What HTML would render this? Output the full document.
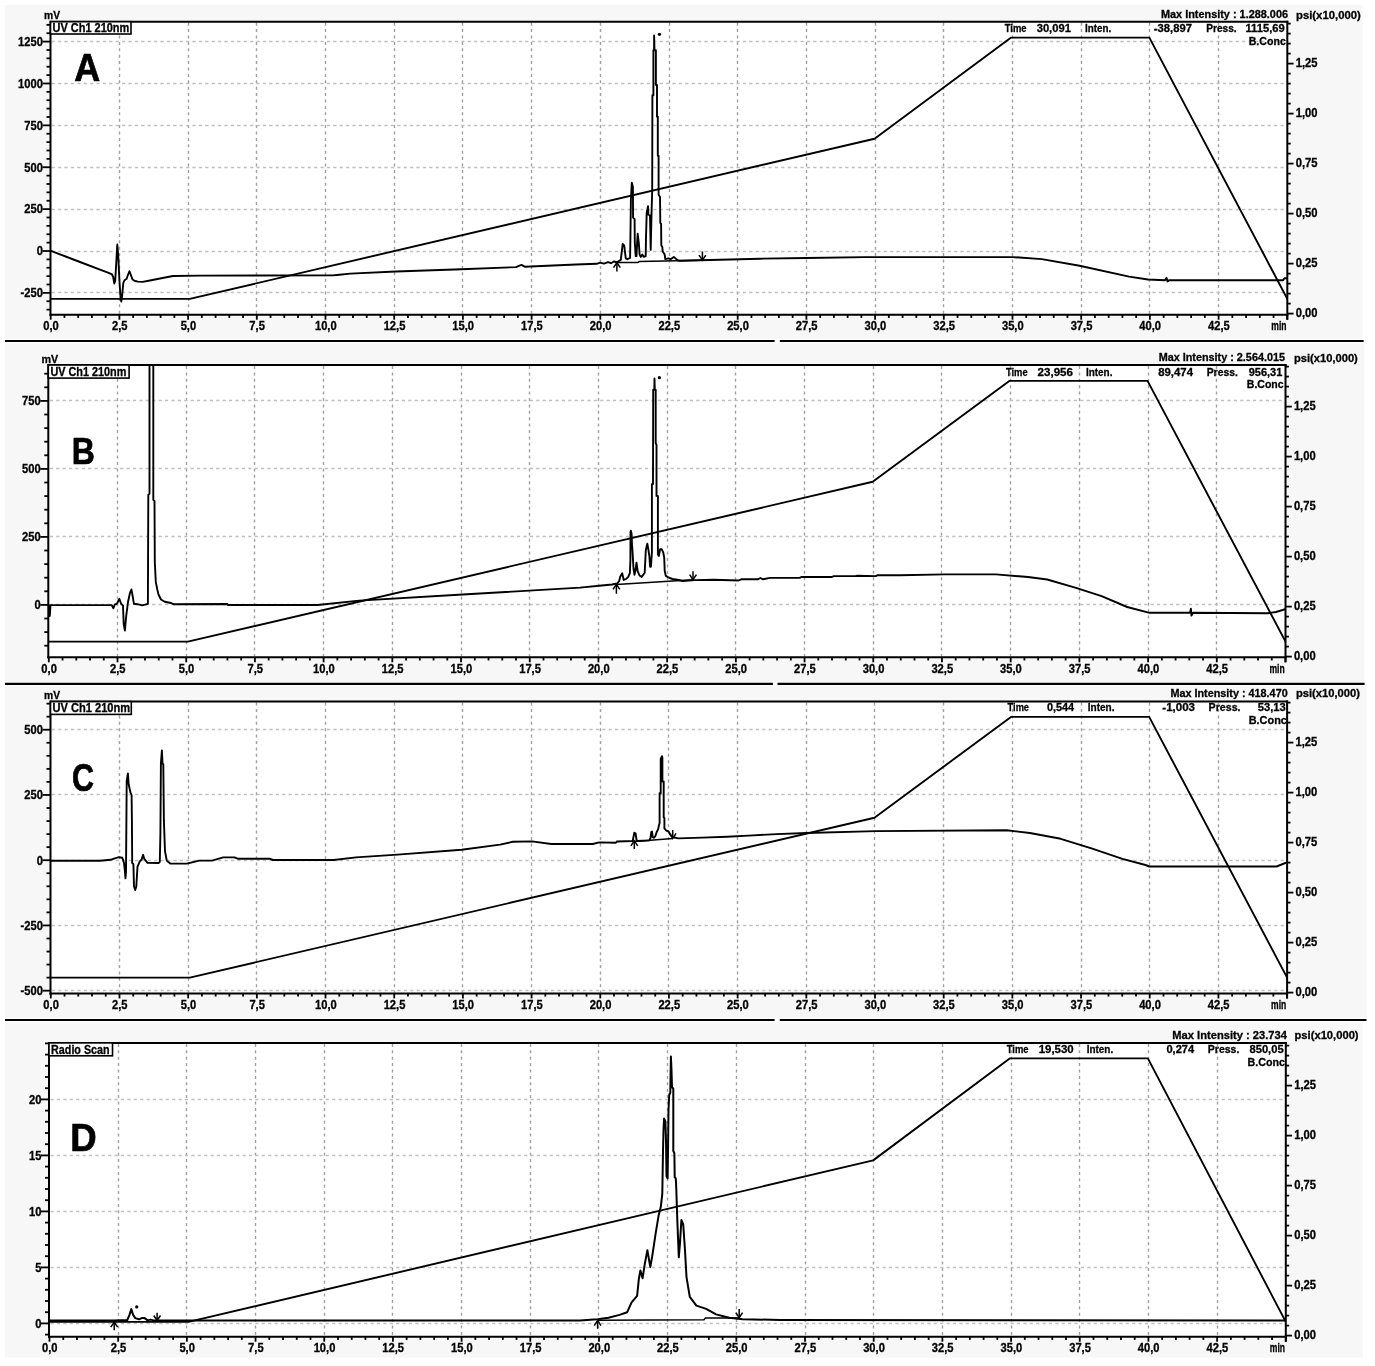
<!DOCTYPE html>
<html><head><meta charset="utf-8"><title>Chromatograms</title><style>
html,body{margin:0;padding:0;background:#fff;width:1375px;height:1366px;overflow:hidden}
svg{display:block;filter:grayscale(1)}text{font-family:"Liberation Sans", sans-serif;fill:#000;stroke:#000;stroke-width:0.3px}
</style></head><body>
<svg width="1375" height="1366" viewBox="0 0 1375 1366">
<rect x="0" y="0" width="1375" height="1366" fill="#fff"/>
<rect x="5" y="4.8" width="1357.6" height="336.2" fill="#f7f7f7"/>
<rect x="5" y="341" width="1359.4" height="343" fill="#f7f7f7"/>
<rect x="5" y="684" width="1361.6" height="336" fill="#f7f7f7"/>
<rect x="5" y="1020" width="1357.7" height="337.6" fill="#f7f7f7"/>
<rect x="50.7" y="21.7" width="1236.6" height="293" fill="#fff"/>
<g stroke-width="1" fill="none">
<line x1="119.5" y1="22.7" x2="119.5" y2="313.7" stroke="#a0a0a0" stroke-width="1.4" stroke-dasharray="3 3.4"/>
<line x1="188.5" y1="22.7" x2="188.5" y2="313.7" stroke="#a0a0a0" stroke-width="1.4" stroke-dasharray="3 3.4"/>
<line x1="256.5" y1="22.7" x2="256.5" y2="313.7" stroke="#a0a0a0" stroke-width="1.4" stroke-dasharray="3 3.4"/>
<line x1="325.5" y1="22.7" x2="325.5" y2="313.7" stroke="#a0a0a0" stroke-width="1.4" stroke-dasharray="3 3.4"/>
<line x1="394.5" y1="22.7" x2="394.5" y2="313.7" stroke="#a0a0a0" stroke-width="1.4" stroke-dasharray="3 3.4"/>
<line x1="462.5" y1="22.7" x2="462.5" y2="313.7" stroke="#a0a0a0" stroke-width="1.4" stroke-dasharray="3 3.4"/>
<line x1="531.5" y1="22.7" x2="531.5" y2="313.7" stroke="#a0a0a0" stroke-width="1.4" stroke-dasharray="3 3.4"/>
<line x1="600.5" y1="22.7" x2="600.5" y2="313.7" stroke="#a0a0a0" stroke-width="1.4" stroke-dasharray="3 3.4"/>
<line x1="669.5" y1="22.7" x2="669.5" y2="313.7" stroke="#a0a0a0" stroke-width="1.4" stroke-dasharray="3 3.4"/>
<line x1="737.5" y1="22.7" x2="737.5" y2="313.7" stroke="#a0a0a0" stroke-width="1.4" stroke-dasharray="3 3.4"/>
<line x1="806.5" y1="22.7" x2="806.5" y2="313.7" stroke="#a0a0a0" stroke-width="1.4" stroke-dasharray="3 3.4"/>
<line x1="875.5" y1="22.7" x2="875.5" y2="313.7" stroke="#a0a0a0" stroke-width="1.4" stroke-dasharray="3 3.4"/>
<line x1="943.5" y1="22.7" x2="943.5" y2="313.7" stroke="#a0a0a0" stroke-width="1.4" stroke-dasharray="3 3.4"/>
<line x1="1012.5" y1="22.7" x2="1012.5" y2="313.7" stroke="#a0a0a0" stroke-width="1.4" stroke-dasharray="3 3.4"/>
<line x1="1081.5" y1="22.7" x2="1081.5" y2="313.7" stroke="#a0a0a0" stroke-width="1.4" stroke-dasharray="3 3.4"/>
<line x1="1149.5" y1="22.7" x2="1149.5" y2="313.7" stroke="#a0a0a0" stroke-width="1.4" stroke-dasharray="3 3.4"/>
<line x1="1218.5" y1="22.7" x2="1218.5" y2="313.7" stroke="#a0a0a0" stroke-width="1.4" stroke-dasharray="3 3.4"/>
<line x1="51.7" y1="41.5" x2="1286.3" y2="41.5" stroke="#c0c0c0" stroke-width="1.4" stroke-dasharray="3.2 3.2"/>
<line x1="51.7" y1="83.5" x2="1286.3" y2="83.5" stroke="#c0c0c0" stroke-width="1.4" stroke-dasharray="3.2 3.2"/>
<line x1="51.7" y1="125.5" x2="1286.3" y2="125.5" stroke="#c0c0c0" stroke-width="1.4" stroke-dasharray="3.2 3.2"/>
<line x1="51.7" y1="167.5" x2="1286.3" y2="167.5" stroke="#c0c0c0" stroke-width="1.4" stroke-dasharray="3.2 3.2"/>
<line x1="51.7" y1="209.5" x2="1286.3" y2="209.5" stroke="#c0c0c0" stroke-width="1.4" stroke-dasharray="3.2 3.2"/>
<line x1="51.7" y1="251.5" x2="1286.3" y2="251.5" stroke="#c0c0c0" stroke-width="1.4" stroke-dasharray="3.2 3.2"/>
<line x1="51.7" y1="292.5" x2="1286.3" y2="292.5" stroke="#c0c0c0" stroke-width="1.4" stroke-dasharray="3.2 3.2"/>
</g>
<clipPath id="clipA"><rect x="50.7" y="21.7" width="1236.6" height="293"/></clipPath>
<g clip-path="url(#clipA)">
<polyline points="50.7,298.9 189.75,298.9 874.55,138.72 1011.13,37.6 1149.35,37.6 1287.3,298.9" fill="none" stroke="#000" stroke-width="1.9" stroke-linejoin="round" stroke-linecap="round"/>
<polyline points="51,250.8 60,254.3 80,262 100,269.6 108,272.6 112,274.3 113.2,277 114.3,283.5 115.2,281 116.3,262 117.3,244.5 118.2,255 119.5,282 120.6,298 121.3,301.5 122.2,295 123.3,283 124.5,280.2 126.5,279 128.3,274 129.5,271.2 130.7,274.5 132.5,279.5 135,281 138,281.6 142.5,281.9 150,280.5 160,278.5 173,276 200,275.6 332.7,275.4 337,275 350.2,273.6 396,271.5 461.5,269.3 516,267.1 519,265.8 521.5,264.9 524.7,266.7 576,264.5 596.7,263.8 600,262.6 604,263.6 608,262.2 611,263.2 613.8,261.5 616.9,262.2 620.8,259.9 621.5,253.8 622.7,243.8 624.2,245.3 625,252.2 625.8,258.4 627.3,259.2 630.1,258 630.4,238.4 630.9,199.2 631.8,182.7 632.9,186.9 633.1,217.7 634.6,219.2 634.8,242.3 635.7,256.1 636.5,256.1 637.1,243 637.7,233.8 638.8,243 639.6,254.6 640.7,256.9 642.3,254.6 643.8,256.9 645.7,256.1 646,237.6 646.7,213 648,206.1 648.4,214.6 650,215.3 650.7,249.9 651.5,214.6 652.2,190 652.4,95.3 653.4,95.3 653.4,50.3 654.1,50.3 654.1,35.4 654.5,50.3 655.9,50.3 655.9,84.9 657,84.9 657,116.8 657.8,116.8 657.8,155.8 658.6,155.8 658.6,194.6 660,196.9 660.3,223 661.1,223.8 661.3,245.3 662.3,246.9 662.7,251.5 664.6,254.2 665.3,259.2 668.4,258.4 670.7,259.2 673.8,256.9 677.6,260.3 680,260.7 700,260.2 760,258.7 806.2,258 864.4,257.1 1012.7,257.1 1041.8,259.1 1079.6,265.8 1129.1,276.6 1148,279.5 1165,280.2 1166.5,277.8 1167.5,281.5 1169,280.2 1283.1,280.2 1284.4,278.2 1288,278.2" fill="none" stroke="#000" stroke-width="1.9" stroke-linejoin="round" stroke-linecap="round"/>
<polyline points="616.9,262.6 637.7,262.6 639.2,261.6 702.4,260.2" fill="none" stroke="#000" stroke-width="1.5"/>
<polyline points="613.5,267.6 616.9,262.6 620.3,267.6" fill="none" stroke="#000" stroke-width="1.5"/><line x1="616.9" y1="262.6" x2="616.9" y2="271.5" stroke="#000" stroke-width="1.5"/>
<polyline points="699,255.2 702.4,260.2 705.8,255.2" fill="none" stroke="#000" stroke-width="1.5"/><line x1="702.4" y1="260.2" x2="702.4" y2="251.6" stroke="#000" stroke-width="1.5"/>
<circle cx="659.4" cy="34.3" r="1.6" fill="#000"/>
</g>
<line x1="50.5" y1="21.7" x2="1288.3" y2="21.7" stroke="#000" stroke-width="2"/>
<line x1="50.5" y1="20.7" x2="50.5" y2="315.7" stroke="#000" stroke-width="2"/>
<line x1="49.5" y1="314.7" x2="1288.3" y2="314.7" stroke="#000" stroke-width="2"/>
<line x1="1287.3" y1="20.7" x2="1287.3" y2="319.7" stroke="#000" stroke-width="2"/>
<line x1="46.5" y1="309.63" x2="50.5" y2="309.63" stroke="#000" stroke-width="1.8"/>
<line x1="46.5" y1="301.26" x2="50.5" y2="301.26" stroke="#000" stroke-width="1.8"/>
<line x1="42.5" y1="292.88" x2="50.5" y2="292.88" stroke="#000" stroke-width="1.8"/>
<line x1="46.5" y1="284.5" x2="50.5" y2="284.5" stroke="#000" stroke-width="1.8"/>
<line x1="46.5" y1="276.13" x2="50.5" y2="276.13" stroke="#000" stroke-width="1.8"/>
<line x1="46.5" y1="267.75" x2="50.5" y2="267.75" stroke="#000" stroke-width="1.8"/>
<line x1="46.5" y1="259.38" x2="50.5" y2="259.38" stroke="#000" stroke-width="1.8"/>
<line x1="42.5" y1="251" x2="50.5" y2="251" stroke="#000" stroke-width="1.8"/>
<line x1="46.5" y1="242.62" x2="50.5" y2="242.62" stroke="#000" stroke-width="1.8"/>
<line x1="46.5" y1="234.25" x2="50.5" y2="234.25" stroke="#000" stroke-width="1.8"/>
<line x1="46.5" y1="225.87" x2="50.5" y2="225.87" stroke="#000" stroke-width="1.8"/>
<line x1="46.5" y1="217.5" x2="50.5" y2="217.5" stroke="#000" stroke-width="1.8"/>
<line x1="42.5" y1="209.12" x2="50.5" y2="209.12" stroke="#000" stroke-width="1.8"/>
<line x1="46.5" y1="200.74" x2="50.5" y2="200.74" stroke="#000" stroke-width="1.8"/>
<line x1="46.5" y1="192.37" x2="50.5" y2="192.37" stroke="#000" stroke-width="1.8"/>
<line x1="46.5" y1="183.99" x2="50.5" y2="183.99" stroke="#000" stroke-width="1.8"/>
<line x1="46.5" y1="175.62" x2="50.5" y2="175.62" stroke="#000" stroke-width="1.8"/>
<line x1="42.5" y1="167.24" x2="50.5" y2="167.24" stroke="#000" stroke-width="1.8"/>
<line x1="46.5" y1="158.86" x2="50.5" y2="158.86" stroke="#000" stroke-width="1.8"/>
<line x1="46.5" y1="150.49" x2="50.5" y2="150.49" stroke="#000" stroke-width="1.8"/>
<line x1="46.5" y1="142.11" x2="50.5" y2="142.11" stroke="#000" stroke-width="1.8"/>
<line x1="46.5" y1="133.74" x2="50.5" y2="133.74" stroke="#000" stroke-width="1.8"/>
<line x1="42.5" y1="125.36" x2="50.5" y2="125.36" stroke="#000" stroke-width="1.8"/>
<line x1="46.5" y1="116.98" x2="50.5" y2="116.98" stroke="#000" stroke-width="1.8"/>
<line x1="46.5" y1="108.61" x2="50.5" y2="108.61" stroke="#000" stroke-width="1.8"/>
<line x1="46.5" y1="100.23" x2="50.5" y2="100.23" stroke="#000" stroke-width="1.8"/>
<line x1="46.5" y1="91.86" x2="50.5" y2="91.86" stroke="#000" stroke-width="1.8"/>
<line x1="42.5" y1="83.48" x2="50.5" y2="83.48" stroke="#000" stroke-width="1.8"/>
<line x1="46.5" y1="75.1" x2="50.5" y2="75.1" stroke="#000" stroke-width="1.8"/>
<line x1="46.5" y1="66.73" x2="50.5" y2="66.73" stroke="#000" stroke-width="1.8"/>
<line x1="46.5" y1="58.35" x2="50.5" y2="58.35" stroke="#000" stroke-width="1.8"/>
<line x1="46.5" y1="49.98" x2="50.5" y2="49.98" stroke="#000" stroke-width="1.8"/>
<line x1="42.5" y1="41.6" x2="50.5" y2="41.6" stroke="#000" stroke-width="1.8"/>
<line x1="46.5" y1="33.22" x2="50.5" y2="33.22" stroke="#000" stroke-width="1.8"/>
<line x1="46.5" y1="24.85" x2="50.5" y2="24.85" stroke="#000" stroke-width="1.8"/>
<text x="42.9" y="45.9" font-size="12" font-weight="bold" text-anchor="end" textLength="24.82" lengthAdjust="spacingAndGlyphs">1250</text>
<text x="42.9" y="87.78" font-size="12" font-weight="bold" text-anchor="end" textLength="24.82" lengthAdjust="spacingAndGlyphs">1000</text>
<text x="42.9" y="129.66" font-size="12" font-weight="bold" text-anchor="end" textLength="18.62" lengthAdjust="spacingAndGlyphs">750</text>
<text x="42.9" y="171.54" font-size="12" font-weight="bold" text-anchor="end" textLength="18.62" lengthAdjust="spacingAndGlyphs">500</text>
<text x="42.9" y="213.42" font-size="12" font-weight="bold" text-anchor="end" textLength="18.62" lengthAdjust="spacingAndGlyphs">250</text>
<text x="42.9" y="255.3" font-size="12" font-weight="bold" text-anchor="end" textLength="6.21" lengthAdjust="spacingAndGlyphs">0</text>
<text x="42.9" y="297.18" font-size="12" font-weight="bold" text-anchor="end" textLength="22.33" lengthAdjust="spacingAndGlyphs">-250</text>
<line x1="1287.3" y1="313.6" x2="1293.6" y2="313.6" stroke="#000" stroke-width="1.8"/>
<text x="1295.7" y="317.3" font-size="12" font-weight="bold" text-anchor="start" textLength="21.8" lengthAdjust="spacingAndGlyphs">0,00</text>
<line x1="1287.3" y1="303.6" x2="1290.7" y2="303.6" stroke="#000" stroke-width="1.8"/>
<line x1="1287.3" y1="293.6" x2="1290.7" y2="293.6" stroke="#000" stroke-width="1.8"/>
<line x1="1287.3" y1="283.6" x2="1290.7" y2="283.6" stroke="#000" stroke-width="1.8"/>
<line x1="1287.3" y1="273.6" x2="1290.7" y2="273.6" stroke="#000" stroke-width="1.8"/>
<line x1="1287.3" y1="263.6" x2="1293.6" y2="263.6" stroke="#000" stroke-width="1.8"/>
<text x="1295.7" y="267.3" font-size="12" font-weight="bold" text-anchor="start" textLength="21.8" lengthAdjust="spacingAndGlyphs">0,25</text>
<line x1="1287.3" y1="253.6" x2="1290.7" y2="253.6" stroke="#000" stroke-width="1.8"/>
<line x1="1287.3" y1="243.6" x2="1290.7" y2="243.6" stroke="#000" stroke-width="1.8"/>
<line x1="1287.3" y1="233.6" x2="1290.7" y2="233.6" stroke="#000" stroke-width="1.8"/>
<line x1="1287.3" y1="223.6" x2="1290.7" y2="223.6" stroke="#000" stroke-width="1.8"/>
<line x1="1287.3" y1="213.6" x2="1293.6" y2="213.6" stroke="#000" stroke-width="1.8"/>
<text x="1295.7" y="217.3" font-size="12" font-weight="bold" text-anchor="start" textLength="21.8" lengthAdjust="spacingAndGlyphs">0,50</text>
<line x1="1287.3" y1="203.6" x2="1290.7" y2="203.6" stroke="#000" stroke-width="1.8"/>
<line x1="1287.3" y1="193.6" x2="1290.7" y2="193.6" stroke="#000" stroke-width="1.8"/>
<line x1="1287.3" y1="183.6" x2="1290.7" y2="183.6" stroke="#000" stroke-width="1.8"/>
<line x1="1287.3" y1="173.6" x2="1290.7" y2="173.6" stroke="#000" stroke-width="1.8"/>
<line x1="1287.3" y1="163.6" x2="1293.6" y2="163.6" stroke="#000" stroke-width="1.8"/>
<text x="1295.7" y="167.3" font-size="12" font-weight="bold" text-anchor="start" textLength="21.8" lengthAdjust="spacingAndGlyphs">0,75</text>
<line x1="1287.3" y1="153.6" x2="1290.7" y2="153.6" stroke="#000" stroke-width="1.8"/>
<line x1="1287.3" y1="143.6" x2="1290.7" y2="143.6" stroke="#000" stroke-width="1.8"/>
<line x1="1287.3" y1="133.6" x2="1290.7" y2="133.6" stroke="#000" stroke-width="1.8"/>
<line x1="1287.3" y1="123.6" x2="1290.7" y2="123.6" stroke="#000" stroke-width="1.8"/>
<line x1="1287.3" y1="113.6" x2="1293.6" y2="113.6" stroke="#000" stroke-width="1.8"/>
<text x="1295.7" y="117.3" font-size="12" font-weight="bold" text-anchor="start" textLength="21.8" lengthAdjust="spacingAndGlyphs">1,00</text>
<line x1="1287.3" y1="103.6" x2="1290.7" y2="103.6" stroke="#000" stroke-width="1.8"/>
<line x1="1287.3" y1="93.6" x2="1290.7" y2="93.6" stroke="#000" stroke-width="1.8"/>
<line x1="1287.3" y1="83.6" x2="1290.7" y2="83.6" stroke="#000" stroke-width="1.8"/>
<line x1="1287.3" y1="73.6" x2="1290.7" y2="73.6" stroke="#000" stroke-width="1.8"/>
<line x1="1287.3" y1="63.6" x2="1293.6" y2="63.6" stroke="#000" stroke-width="1.8"/>
<text x="1295.7" y="67.3" font-size="12" font-weight="bold" text-anchor="start" textLength="21.8" lengthAdjust="spacingAndGlyphs">1,25</text>
<line x1="1287.3" y1="53.6" x2="1290.7" y2="53.6" stroke="#000" stroke-width="1.8"/>
<line x1="1287.3" y1="43.6" x2="1290.7" y2="43.6" stroke="#000" stroke-width="1.8"/>
<line x1="1287.3" y1="33.6" x2="1290.7" y2="33.6" stroke="#000" stroke-width="1.8"/>
<line x1="1287.3" y1="23.6" x2="1290.7" y2="23.6" stroke="#000" stroke-width="1.8"/>
<line x1="50.7" y1="314.7" x2="50.7" y2="319.7" stroke="#000" stroke-width="1.8"/>
<text x="51" y="330.4" font-size="12" font-weight="bold" text-anchor="middle" textLength="15.51" lengthAdjust="spacingAndGlyphs">0,0</text>
<line x1="64.44" y1="314.7" x2="64.44" y2="317.9" stroke="#000" stroke-width="1.8"/>
<line x1="78.18" y1="314.7" x2="78.18" y2="317.9" stroke="#000" stroke-width="1.8"/>
<line x1="91.92" y1="314.7" x2="91.92" y2="317.9" stroke="#000" stroke-width="1.8"/>
<line x1="105.66" y1="314.7" x2="105.66" y2="317.9" stroke="#000" stroke-width="1.8"/>
<line x1="119.4" y1="314.7" x2="119.4" y2="319.7" stroke="#000" stroke-width="1.8"/>
<text x="119.7" y="330.4" font-size="12" font-weight="bold" text-anchor="middle" textLength="15.51" lengthAdjust="spacingAndGlyphs">2,5</text>
<line x1="133.14" y1="314.7" x2="133.14" y2="317.9" stroke="#000" stroke-width="1.8"/>
<line x1="146.88" y1="314.7" x2="146.88" y2="317.9" stroke="#000" stroke-width="1.8"/>
<line x1="160.62" y1="314.7" x2="160.62" y2="317.9" stroke="#000" stroke-width="1.8"/>
<line x1="174.36" y1="314.7" x2="174.36" y2="317.9" stroke="#000" stroke-width="1.8"/>
<line x1="188.1" y1="314.7" x2="188.1" y2="319.7" stroke="#000" stroke-width="1.8"/>
<text x="188.4" y="330.4" font-size="12" font-weight="bold" text-anchor="middle" textLength="15.51" lengthAdjust="spacingAndGlyphs">5,0</text>
<line x1="201.84" y1="314.7" x2="201.84" y2="317.9" stroke="#000" stroke-width="1.8"/>
<line x1="215.58" y1="314.7" x2="215.58" y2="317.9" stroke="#000" stroke-width="1.8"/>
<line x1="229.32" y1="314.7" x2="229.32" y2="317.9" stroke="#000" stroke-width="1.8"/>
<line x1="243.06" y1="314.7" x2="243.06" y2="317.9" stroke="#000" stroke-width="1.8"/>
<line x1="256.8" y1="314.7" x2="256.8" y2="319.7" stroke="#000" stroke-width="1.8"/>
<text x="257.1" y="330.4" font-size="12" font-weight="bold" text-anchor="middle" textLength="15.51" lengthAdjust="spacingAndGlyphs">7,5</text>
<line x1="270.54" y1="314.7" x2="270.54" y2="317.9" stroke="#000" stroke-width="1.8"/>
<line x1="284.28" y1="314.7" x2="284.28" y2="317.9" stroke="#000" stroke-width="1.8"/>
<line x1="298.02" y1="314.7" x2="298.02" y2="317.9" stroke="#000" stroke-width="1.8"/>
<line x1="311.76" y1="314.7" x2="311.76" y2="317.9" stroke="#000" stroke-width="1.8"/>
<line x1="325.5" y1="314.7" x2="325.5" y2="319.7" stroke="#000" stroke-width="1.8"/>
<text x="325.8" y="330.4" font-size="12" font-weight="bold" text-anchor="middle" textLength="21.72" lengthAdjust="spacingAndGlyphs">10,0</text>
<line x1="339.24" y1="314.7" x2="339.24" y2="317.9" stroke="#000" stroke-width="1.8"/>
<line x1="352.98" y1="314.7" x2="352.98" y2="317.9" stroke="#000" stroke-width="1.8"/>
<line x1="366.72" y1="314.7" x2="366.72" y2="317.9" stroke="#000" stroke-width="1.8"/>
<line x1="380.46" y1="314.7" x2="380.46" y2="317.9" stroke="#000" stroke-width="1.8"/>
<line x1="394.2" y1="314.7" x2="394.2" y2="319.7" stroke="#000" stroke-width="1.8"/>
<text x="394.5" y="330.4" font-size="12" font-weight="bold" text-anchor="middle" textLength="21.72" lengthAdjust="spacingAndGlyphs">12,5</text>
<line x1="407.94" y1="314.7" x2="407.94" y2="317.9" stroke="#000" stroke-width="1.8"/>
<line x1="421.68" y1="314.7" x2="421.68" y2="317.9" stroke="#000" stroke-width="1.8"/>
<line x1="435.42" y1="314.7" x2="435.42" y2="317.9" stroke="#000" stroke-width="1.8"/>
<line x1="449.16" y1="314.7" x2="449.16" y2="317.9" stroke="#000" stroke-width="1.8"/>
<line x1="462.9" y1="314.7" x2="462.9" y2="319.7" stroke="#000" stroke-width="1.8"/>
<text x="463.2" y="330.4" font-size="12" font-weight="bold" text-anchor="middle" textLength="21.72" lengthAdjust="spacingAndGlyphs">15,0</text>
<line x1="476.64" y1="314.7" x2="476.64" y2="317.9" stroke="#000" stroke-width="1.8"/>
<line x1="490.38" y1="314.7" x2="490.38" y2="317.9" stroke="#000" stroke-width="1.8"/>
<line x1="504.12" y1="314.7" x2="504.12" y2="317.9" stroke="#000" stroke-width="1.8"/>
<line x1="517.86" y1="314.7" x2="517.86" y2="317.9" stroke="#000" stroke-width="1.8"/>
<line x1="531.6" y1="314.7" x2="531.6" y2="319.7" stroke="#000" stroke-width="1.8"/>
<text x="531.9" y="330.4" font-size="12" font-weight="bold" text-anchor="middle" textLength="21.72" lengthAdjust="spacingAndGlyphs">17,5</text>
<line x1="545.34" y1="314.7" x2="545.34" y2="317.9" stroke="#000" stroke-width="1.8"/>
<line x1="559.08" y1="314.7" x2="559.08" y2="317.9" stroke="#000" stroke-width="1.8"/>
<line x1="572.82" y1="314.7" x2="572.82" y2="317.9" stroke="#000" stroke-width="1.8"/>
<line x1="586.56" y1="314.7" x2="586.56" y2="317.9" stroke="#000" stroke-width="1.8"/>
<line x1="600.3" y1="314.7" x2="600.3" y2="319.7" stroke="#000" stroke-width="1.8"/>
<text x="600.6" y="330.4" font-size="12" font-weight="bold" text-anchor="middle" textLength="21.72" lengthAdjust="spacingAndGlyphs">20,0</text>
<line x1="614.04" y1="314.7" x2="614.04" y2="317.9" stroke="#000" stroke-width="1.8"/>
<line x1="627.78" y1="314.7" x2="627.78" y2="317.9" stroke="#000" stroke-width="1.8"/>
<line x1="641.52" y1="314.7" x2="641.52" y2="317.9" stroke="#000" stroke-width="1.8"/>
<line x1="655.26" y1="314.7" x2="655.26" y2="317.9" stroke="#000" stroke-width="1.8"/>
<line x1="669" y1="314.7" x2="669" y2="319.7" stroke="#000" stroke-width="1.8"/>
<text x="669.3" y="330.4" font-size="12" font-weight="bold" text-anchor="middle" textLength="21.72" lengthAdjust="spacingAndGlyphs">22,5</text>
<line x1="682.74" y1="314.7" x2="682.74" y2="317.9" stroke="#000" stroke-width="1.8"/>
<line x1="696.48" y1="314.7" x2="696.48" y2="317.9" stroke="#000" stroke-width="1.8"/>
<line x1="710.22" y1="314.7" x2="710.22" y2="317.9" stroke="#000" stroke-width="1.8"/>
<line x1="723.96" y1="314.7" x2="723.96" y2="317.9" stroke="#000" stroke-width="1.8"/>
<line x1="737.7" y1="314.7" x2="737.7" y2="319.7" stroke="#000" stroke-width="1.8"/>
<text x="738" y="330.4" font-size="12" font-weight="bold" text-anchor="middle" textLength="21.72" lengthAdjust="spacingAndGlyphs">25,0</text>
<line x1="751.44" y1="314.7" x2="751.44" y2="317.9" stroke="#000" stroke-width="1.8"/>
<line x1="765.18" y1="314.7" x2="765.18" y2="317.9" stroke="#000" stroke-width="1.8"/>
<line x1="778.92" y1="314.7" x2="778.92" y2="317.9" stroke="#000" stroke-width="1.8"/>
<line x1="792.66" y1="314.7" x2="792.66" y2="317.9" stroke="#000" stroke-width="1.8"/>
<line x1="806.4" y1="314.7" x2="806.4" y2="319.7" stroke="#000" stroke-width="1.8"/>
<text x="806.7" y="330.4" font-size="12" font-weight="bold" text-anchor="middle" textLength="21.72" lengthAdjust="spacingAndGlyphs">27,5</text>
<line x1="820.14" y1="314.7" x2="820.14" y2="317.9" stroke="#000" stroke-width="1.8"/>
<line x1="833.88" y1="314.7" x2="833.88" y2="317.9" stroke="#000" stroke-width="1.8"/>
<line x1="847.62" y1="314.7" x2="847.62" y2="317.9" stroke="#000" stroke-width="1.8"/>
<line x1="861.36" y1="314.7" x2="861.36" y2="317.9" stroke="#000" stroke-width="1.8"/>
<line x1="875.1" y1="314.7" x2="875.1" y2="319.7" stroke="#000" stroke-width="1.8"/>
<text x="875.4" y="330.4" font-size="12" font-weight="bold" text-anchor="middle" textLength="21.72" lengthAdjust="spacingAndGlyphs">30,0</text>
<line x1="888.84" y1="314.7" x2="888.84" y2="317.9" stroke="#000" stroke-width="1.8"/>
<line x1="902.58" y1="314.7" x2="902.58" y2="317.9" stroke="#000" stroke-width="1.8"/>
<line x1="916.32" y1="314.7" x2="916.32" y2="317.9" stroke="#000" stroke-width="1.8"/>
<line x1="930.06" y1="314.7" x2="930.06" y2="317.9" stroke="#000" stroke-width="1.8"/>
<line x1="943.8" y1="314.7" x2="943.8" y2="319.7" stroke="#000" stroke-width="1.8"/>
<text x="944.1" y="330.4" font-size="12" font-weight="bold" text-anchor="middle" textLength="21.72" lengthAdjust="spacingAndGlyphs">32,5</text>
<line x1="957.54" y1="314.7" x2="957.54" y2="317.9" stroke="#000" stroke-width="1.8"/>
<line x1="971.28" y1="314.7" x2="971.28" y2="317.9" stroke="#000" stroke-width="1.8"/>
<line x1="985.02" y1="314.7" x2="985.02" y2="317.9" stroke="#000" stroke-width="1.8"/>
<line x1="998.76" y1="314.7" x2="998.76" y2="317.9" stroke="#000" stroke-width="1.8"/>
<line x1="1012.5" y1="314.7" x2="1012.5" y2="319.7" stroke="#000" stroke-width="1.8"/>
<text x="1012.8" y="330.4" font-size="12" font-weight="bold" text-anchor="middle" textLength="21.72" lengthAdjust="spacingAndGlyphs">35,0</text>
<line x1="1026.24" y1="314.7" x2="1026.24" y2="317.9" stroke="#000" stroke-width="1.8"/>
<line x1="1039.98" y1="314.7" x2="1039.98" y2="317.9" stroke="#000" stroke-width="1.8"/>
<line x1="1053.72" y1="314.7" x2="1053.72" y2="317.9" stroke="#000" stroke-width="1.8"/>
<line x1="1067.46" y1="314.7" x2="1067.46" y2="317.9" stroke="#000" stroke-width="1.8"/>
<line x1="1081.2" y1="314.7" x2="1081.2" y2="319.7" stroke="#000" stroke-width="1.8"/>
<text x="1081.5" y="330.4" font-size="12" font-weight="bold" text-anchor="middle" textLength="21.72" lengthAdjust="spacingAndGlyphs">37,5</text>
<line x1="1094.94" y1="314.7" x2="1094.94" y2="317.9" stroke="#000" stroke-width="1.8"/>
<line x1="1108.68" y1="314.7" x2="1108.68" y2="317.9" stroke="#000" stroke-width="1.8"/>
<line x1="1122.42" y1="314.7" x2="1122.42" y2="317.9" stroke="#000" stroke-width="1.8"/>
<line x1="1136.16" y1="314.7" x2="1136.16" y2="317.9" stroke="#000" stroke-width="1.8"/>
<line x1="1149.9" y1="314.7" x2="1149.9" y2="319.7" stroke="#000" stroke-width="1.8"/>
<text x="1150.2" y="330.4" font-size="12" font-weight="bold" text-anchor="middle" textLength="21.72" lengthAdjust="spacingAndGlyphs">40,0</text>
<line x1="1163.64" y1="314.7" x2="1163.64" y2="317.9" stroke="#000" stroke-width="1.8"/>
<line x1="1177.38" y1="314.7" x2="1177.38" y2="317.9" stroke="#000" stroke-width="1.8"/>
<line x1="1191.12" y1="314.7" x2="1191.12" y2="317.9" stroke="#000" stroke-width="1.8"/>
<line x1="1204.86" y1="314.7" x2="1204.86" y2="317.9" stroke="#000" stroke-width="1.8"/>
<line x1="1218.6" y1="314.7" x2="1218.6" y2="319.7" stroke="#000" stroke-width="1.8"/>
<text x="1218.9" y="330.4" font-size="12" font-weight="bold" text-anchor="middle" textLength="21.72" lengthAdjust="spacingAndGlyphs">42,5</text>
<line x1="1232.34" y1="314.7" x2="1232.34" y2="317.9" stroke="#000" stroke-width="1.8"/>
<line x1="1246.08" y1="314.7" x2="1246.08" y2="317.9" stroke="#000" stroke-width="1.8"/>
<line x1="1259.82" y1="314.7" x2="1259.82" y2="317.9" stroke="#000" stroke-width="1.8"/>
<line x1="1273.56" y1="314.7" x2="1273.56" y2="317.9" stroke="#000" stroke-width="1.8"/>
<line x1="1287.3" y1="314.7" x2="1287.3" y2="319.7" stroke="#000" stroke-width="1.8"/>
<text x="1286.5" y="330.4" font-size="12" font-weight="bold" text-anchor="end" textLength="15.2" lengthAdjust="spacingAndGlyphs">min</text>
<rect x="50.5" y="21.7" width="80.5" height="12.3" fill="#fff" stroke="#000" stroke-width="1.6"/>
<text x="52.6" y="32" font-size="12" font-weight="bold" text-anchor="start" textLength="76.7" lengthAdjust="spacingAndGlyphs">UV Ch1 210nm</text>
<text transform="translate(74.35,81.15) scale(0.9255,1)" x="0" y="0" font-size="38.86" font-weight="bold" style="stroke-width:0.7px">A</text>
<text x="44" y="18.5" font-size="11.6" font-weight="bold" text-anchor="start" textLength="16" lengthAdjust="spacingAndGlyphs">mV</text>
<text x="1161" y="17.6" font-size="11.6" font-weight="bold" text-anchor="start" textLength="127" lengthAdjust="spacingAndGlyphs">Max Intensity : 1.288.006</text>
<text x="1296" y="18.6" font-size="11.6" font-weight="bold" text-anchor="start" textLength="64.8" lengthAdjust="spacingAndGlyphs">psi(x10,000)</text>
<text x="1004.8" y="31.6" font-size="11.4" font-weight="bold" text-anchor="start" textLength="21.8" lengthAdjust="spacingAndGlyphs">Time</text>
<text x="1036.7" y="31.6" font-size="11.4" font-weight="bold" text-anchor="start" textLength="34.2" lengthAdjust="spacingAndGlyphs">30,091</text>
<text x="1085.1" y="31.6" font-size="11.4" font-weight="bold" text-anchor="start" textLength="26.2" lengthAdjust="spacingAndGlyphs">Inten.</text>
<text x="1153.8" y="31.6" font-size="11.4" font-weight="bold" text-anchor="start" textLength="38.2" lengthAdjust="spacingAndGlyphs">-38,897</text>
<text x="1206.2" y="31.6" font-size="11.4" font-weight="bold" text-anchor="start" textLength="30.5" lengthAdjust="spacingAndGlyphs">Press.</text>
<text x="1245.5" y="31.6" font-size="11.4" font-weight="bold" text-anchor="start" textLength="39.2" lengthAdjust="spacingAndGlyphs">1115,69</text>
<text x="1248.7" y="44.6" font-size="11.4" font-weight="bold" text-anchor="start" textLength="37.1" lengthAdjust="spacingAndGlyphs">B.Conc</text>
<rect x="5" y="338.8" width="1358.6" height="4.6" fill="#fff"/>
<line x1="5" y1="341" x2="774.6" y2="341" stroke="#000" stroke-width="2.1"/>
<line x1="779.8" y1="341" x2="1363.6" y2="341" stroke="#000" stroke-width="2.1"/>
<rect x="48.8" y="365" width="1236.7" height="292.3" fill="#fff"/>
<g stroke-width="1" fill="none">
<line x1="117.5" y1="366" x2="117.5" y2="656.3" stroke="#a0a0a0" stroke-width="1.4" stroke-dasharray="3 3.4"/>
<line x1="186.5" y1="366" x2="186.5" y2="656.3" stroke="#a0a0a0" stroke-width="1.4" stroke-dasharray="3 3.4"/>
<line x1="254.5" y1="366" x2="254.5" y2="656.3" stroke="#a0a0a0" stroke-width="1.4" stroke-dasharray="3 3.4"/>
<line x1="323.5" y1="366" x2="323.5" y2="656.3" stroke="#a0a0a0" stroke-width="1.4" stroke-dasharray="3 3.4"/>
<line x1="392.5" y1="366" x2="392.5" y2="656.3" stroke="#a0a0a0" stroke-width="1.4" stroke-dasharray="3 3.4"/>
<line x1="461.5" y1="366" x2="461.5" y2="656.3" stroke="#a0a0a0" stroke-width="1.4" stroke-dasharray="3 3.4"/>
<line x1="529.5" y1="366" x2="529.5" y2="656.3" stroke="#a0a0a0" stroke-width="1.4" stroke-dasharray="3 3.4"/>
<line x1="598.5" y1="366" x2="598.5" y2="656.3" stroke="#a0a0a0" stroke-width="1.4" stroke-dasharray="3 3.4"/>
<line x1="667.5" y1="366" x2="667.5" y2="656.3" stroke="#a0a0a0" stroke-width="1.4" stroke-dasharray="3 3.4"/>
<line x1="735.5" y1="366" x2="735.5" y2="656.3" stroke="#a0a0a0" stroke-width="1.4" stroke-dasharray="3 3.4"/>
<line x1="804.5" y1="366" x2="804.5" y2="656.3" stroke="#a0a0a0" stroke-width="1.4" stroke-dasharray="3 3.4"/>
<line x1="873.5" y1="366" x2="873.5" y2="656.3" stroke="#a0a0a0" stroke-width="1.4" stroke-dasharray="3 3.4"/>
<line x1="941.5" y1="366" x2="941.5" y2="656.3" stroke="#a0a0a0" stroke-width="1.4" stroke-dasharray="3 3.4"/>
<line x1="1010.5" y1="366" x2="1010.5" y2="656.3" stroke="#a0a0a0" stroke-width="1.4" stroke-dasharray="3 3.4"/>
<line x1="1079.5" y1="366" x2="1079.5" y2="656.3" stroke="#a0a0a0" stroke-width="1.4" stroke-dasharray="3 3.4"/>
<line x1="1148.5" y1="366" x2="1148.5" y2="656.3" stroke="#a0a0a0" stroke-width="1.4" stroke-dasharray="3 3.4"/>
<line x1="1216.5" y1="366" x2="1216.5" y2="656.3" stroke="#a0a0a0" stroke-width="1.4" stroke-dasharray="3 3.4"/>
<line x1="49.8" y1="400.5" x2="1284.5" y2="400.5" stroke="#c0c0c0" stroke-width="1.4" stroke-dasharray="3.2 3.2"/>
<line x1="49.8" y1="468.5" x2="1284.5" y2="468.5" stroke="#c0c0c0" stroke-width="1.4" stroke-dasharray="3.2 3.2"/>
<line x1="49.8" y1="536.5" x2="1284.5" y2="536.5" stroke="#c0c0c0" stroke-width="1.4" stroke-dasharray="3.2 3.2"/>
<line x1="49.8" y1="604.5" x2="1284.5" y2="604.5" stroke="#c0c0c0" stroke-width="1.4" stroke-dasharray="3.2 3.2"/>
</g>
<clipPath id="clipB"><rect x="48.8" y="365" width="1236.7" height="292.3"/></clipPath>
<g clip-path="url(#clipB)">
<polyline points="48.8,641.6 187.86,641.6 872.72,481.79 1009.3,380.9 1147.54,380.9 1285.5,641.6" fill="none" stroke="#000" stroke-width="1.9" stroke-linejoin="round" stroke-linecap="round"/>
<polyline points="48.8,605.1 49.3,612 49.8,616 50.5,605.1 111.8,605.1 113.4,608.2 114.9,604.4 116.8,603.8 119.3,598.8 121.2,603.8 123,605.7 123.7,624.4 124.9,630.6 126.1,616.9 128,602 129.9,593.2 131.4,589.5 132.6,595.7 133.9,603.8 137.3,604.2 142.3,605.4 147.9,603.8 148.3,494.9 149.5,493.7 149.5,340 153.3,340 153.3,499.9 154.5,501.1 154.8,562.1 155.8,582 157.3,589.5 158.5,594.5 161,599.5 164.7,601.7 171,603 173.4,604.2 227.4,604 228,605 317.6,605 359.2,600.6 458.4,594.8 580,587.6 604.3,585.3 612,584.5 617.3,583.4 619.2,581 620.1,577 622.2,573.3 623.7,580 626,579 628.3,576.9 629.9,572.8 630.4,560 630.5,532 630.9,530.8 631.6,534 632,545 632.4,549.2 633.5,568.7 634.5,574.9 635.5,570 636.5,562.6 637.6,570.8 639.5,575.5 641.7,576.9 644.7,572.8 645.8,550.3 647.3,543.6 648.3,549.2 649.4,556.4 650.1,566.7 650.9,566.7 651.9,552.3 651.9,484.1 653,484.1 653.2,389.8 654.3,389.8 654.5,378.4 654.8,389.8 655.7,389.8 655.7,443.2 656.5,445 656.5,495.9 657.9,496 657.9,554.4 658.9,555.9 660.1,549.2 661.7,549.2 663.2,552.3 664.2,557.4 664.7,570.8 665.8,575.9 668.3,577.4 672.4,579 677.5,579.8 682.7,581 694.9,580.1 714.1,579.8 738.5,580.5 741.2,579.3 757.7,579.3 760.4,578 763,579.3 770,577.9 799.6,577.9 801.4,577 831.9,577 833.7,576.1 855.5,576.1 857.2,575.8 875.6,576.1 877.3,575.3 900,575.3 944.8,574.4 996,574.4 1028,577 1047.2,579.5 1076,587.8 1101.6,596.2 1127.2,607 1149.6,612.8 1190,612.8 1190.9,608.8 1191.5,615.6 1193,612.8 1267.8,613.2 1276,612 1286,609" fill="none" stroke="#000" stroke-width="1.9" stroke-linejoin="round" stroke-linecap="round"/>
<polyline points="616.4,584.4 693,579.7" fill="none" stroke="#000" stroke-width="1.5"/>
<polyline points="613,589.4 616.4,584.4 619.8,589.4" fill="none" stroke="#000" stroke-width="1.5"/><line x1="616.4" y1="584.4" x2="616.4" y2="593.7" stroke="#000" stroke-width="1.5"/>
<polyline points="689.6,574.7 693,579.7 696.4,574.7" fill="none" stroke="#000" stroke-width="1.5"/><line x1="693" y1="579.7" x2="693" y2="571.3" stroke="#000" stroke-width="1.5"/>
<circle cx="659.4" cy="377.7" r="1.6" fill="#000"/>
</g>
<line x1="48.3" y1="365" x2="1286.5" y2="365" stroke="#000" stroke-width="2"/>
<line x1="48.3" y1="364" x2="48.3" y2="658.3" stroke="#000" stroke-width="2"/>
<line x1="47.3" y1="657.3" x2="1286.5" y2="657.3" stroke="#000" stroke-width="2"/>
<line x1="1285.5" y1="364" x2="1285.5" y2="662.3" stroke="#000" stroke-width="2"/>
<line x1="44.3" y1="645.7" x2="48.3" y2="645.7" stroke="#000" stroke-width="1.8"/>
<line x1="44.3" y1="632.1" x2="48.3" y2="632.1" stroke="#000" stroke-width="1.8"/>
<line x1="44.3" y1="618.5" x2="48.3" y2="618.5" stroke="#000" stroke-width="1.8"/>
<line x1="40.3" y1="604.9" x2="48.3" y2="604.9" stroke="#000" stroke-width="1.8"/>
<line x1="44.3" y1="591.3" x2="48.3" y2="591.3" stroke="#000" stroke-width="1.8"/>
<line x1="44.3" y1="577.7" x2="48.3" y2="577.7" stroke="#000" stroke-width="1.8"/>
<line x1="44.3" y1="564.1" x2="48.3" y2="564.1" stroke="#000" stroke-width="1.8"/>
<line x1="44.3" y1="550.5" x2="48.3" y2="550.5" stroke="#000" stroke-width="1.8"/>
<line x1="40.3" y1="536.9" x2="48.3" y2="536.9" stroke="#000" stroke-width="1.8"/>
<line x1="44.3" y1="523.3" x2="48.3" y2="523.3" stroke="#000" stroke-width="1.8"/>
<line x1="44.3" y1="509.7" x2="48.3" y2="509.7" stroke="#000" stroke-width="1.8"/>
<line x1="44.3" y1="496.1" x2="48.3" y2="496.1" stroke="#000" stroke-width="1.8"/>
<line x1="44.3" y1="482.5" x2="48.3" y2="482.5" stroke="#000" stroke-width="1.8"/>
<line x1="40.3" y1="468.9" x2="48.3" y2="468.9" stroke="#000" stroke-width="1.8"/>
<line x1="44.3" y1="455.3" x2="48.3" y2="455.3" stroke="#000" stroke-width="1.8"/>
<line x1="44.3" y1="441.7" x2="48.3" y2="441.7" stroke="#000" stroke-width="1.8"/>
<line x1="44.3" y1="428.1" x2="48.3" y2="428.1" stroke="#000" stroke-width="1.8"/>
<line x1="44.3" y1="414.5" x2="48.3" y2="414.5" stroke="#000" stroke-width="1.8"/>
<line x1="40.3" y1="400.9" x2="48.3" y2="400.9" stroke="#000" stroke-width="1.8"/>
<line x1="44.3" y1="387.3" x2="48.3" y2="387.3" stroke="#000" stroke-width="1.8"/>
<line x1="44.3" y1="373.7" x2="48.3" y2="373.7" stroke="#000" stroke-width="1.8"/>
<text x="40.7" y="405.2" font-size="12" font-weight="bold" text-anchor="end" textLength="18.62" lengthAdjust="spacingAndGlyphs">750</text>
<text x="40.7" y="473.2" font-size="12" font-weight="bold" text-anchor="end" textLength="18.62" lengthAdjust="spacingAndGlyphs">500</text>
<text x="40.7" y="541.2" font-size="12" font-weight="bold" text-anchor="end" textLength="18.62" lengthAdjust="spacingAndGlyphs">250</text>
<text x="40.7" y="609.2" font-size="12" font-weight="bold" text-anchor="end" textLength="6.21" lengthAdjust="spacingAndGlyphs">0</text>
<line x1="1285.5" y1="656.6" x2="1291.8" y2="656.6" stroke="#000" stroke-width="1.8"/>
<text x="1293.9" y="660.3" font-size="12" font-weight="bold" text-anchor="start" textLength="21.8" lengthAdjust="spacingAndGlyphs">0,00</text>
<line x1="1285.5" y1="646.6" x2="1288.9" y2="646.6" stroke="#000" stroke-width="1.8"/>
<line x1="1285.5" y1="636.6" x2="1288.9" y2="636.6" stroke="#000" stroke-width="1.8"/>
<line x1="1285.5" y1="626.6" x2="1288.9" y2="626.6" stroke="#000" stroke-width="1.8"/>
<line x1="1285.5" y1="616.6" x2="1288.9" y2="616.6" stroke="#000" stroke-width="1.8"/>
<line x1="1285.5" y1="606.6" x2="1291.8" y2="606.6" stroke="#000" stroke-width="1.8"/>
<text x="1293.9" y="610.3" font-size="12" font-weight="bold" text-anchor="start" textLength="21.8" lengthAdjust="spacingAndGlyphs">0,25</text>
<line x1="1285.5" y1="596.6" x2="1288.9" y2="596.6" stroke="#000" stroke-width="1.8"/>
<line x1="1285.5" y1="586.6" x2="1288.9" y2="586.6" stroke="#000" stroke-width="1.8"/>
<line x1="1285.5" y1="576.6" x2="1288.9" y2="576.6" stroke="#000" stroke-width="1.8"/>
<line x1="1285.5" y1="566.6" x2="1288.9" y2="566.6" stroke="#000" stroke-width="1.8"/>
<line x1="1285.5" y1="556.6" x2="1291.8" y2="556.6" stroke="#000" stroke-width="1.8"/>
<text x="1293.9" y="560.3" font-size="12" font-weight="bold" text-anchor="start" textLength="21.8" lengthAdjust="spacingAndGlyphs">0,50</text>
<line x1="1285.5" y1="546.6" x2="1288.9" y2="546.6" stroke="#000" stroke-width="1.8"/>
<line x1="1285.5" y1="536.6" x2="1288.9" y2="536.6" stroke="#000" stroke-width="1.8"/>
<line x1="1285.5" y1="526.6" x2="1288.9" y2="526.6" stroke="#000" stroke-width="1.8"/>
<line x1="1285.5" y1="516.6" x2="1288.9" y2="516.6" stroke="#000" stroke-width="1.8"/>
<line x1="1285.5" y1="506.6" x2="1291.8" y2="506.6" stroke="#000" stroke-width="1.8"/>
<text x="1293.9" y="510.3" font-size="12" font-weight="bold" text-anchor="start" textLength="21.8" lengthAdjust="spacingAndGlyphs">0,75</text>
<line x1="1285.5" y1="496.6" x2="1288.9" y2="496.6" stroke="#000" stroke-width="1.8"/>
<line x1="1285.5" y1="486.6" x2="1288.9" y2="486.6" stroke="#000" stroke-width="1.8"/>
<line x1="1285.5" y1="476.6" x2="1288.9" y2="476.6" stroke="#000" stroke-width="1.8"/>
<line x1="1285.5" y1="466.6" x2="1288.9" y2="466.6" stroke="#000" stroke-width="1.8"/>
<line x1="1285.5" y1="456.6" x2="1291.8" y2="456.6" stroke="#000" stroke-width="1.8"/>
<text x="1293.9" y="460.3" font-size="12" font-weight="bold" text-anchor="start" textLength="21.8" lengthAdjust="spacingAndGlyphs">1,00</text>
<line x1="1285.5" y1="446.6" x2="1288.9" y2="446.6" stroke="#000" stroke-width="1.8"/>
<line x1="1285.5" y1="436.6" x2="1288.9" y2="436.6" stroke="#000" stroke-width="1.8"/>
<line x1="1285.5" y1="426.6" x2="1288.9" y2="426.6" stroke="#000" stroke-width="1.8"/>
<line x1="1285.5" y1="416.6" x2="1288.9" y2="416.6" stroke="#000" stroke-width="1.8"/>
<line x1="1285.5" y1="406.6" x2="1291.8" y2="406.6" stroke="#000" stroke-width="1.8"/>
<text x="1293.9" y="410.3" font-size="12" font-weight="bold" text-anchor="start" textLength="21.8" lengthAdjust="spacingAndGlyphs">1,25</text>
<line x1="1285.5" y1="396.6" x2="1288.9" y2="396.6" stroke="#000" stroke-width="1.8"/>
<line x1="1285.5" y1="386.6" x2="1288.9" y2="386.6" stroke="#000" stroke-width="1.8"/>
<line x1="1285.5" y1="376.6" x2="1288.9" y2="376.6" stroke="#000" stroke-width="1.8"/>
<line x1="1285.5" y1="366.6" x2="1288.9" y2="366.6" stroke="#000" stroke-width="1.8"/>
<line x1="48.8" y1="657.3" x2="48.8" y2="662.3" stroke="#000" stroke-width="1.8"/>
<text x="49.1" y="673" font-size="12" font-weight="bold" text-anchor="middle" textLength="15.51" lengthAdjust="spacingAndGlyphs">0,0</text>
<line x1="62.54" y1="657.3" x2="62.54" y2="660.5" stroke="#000" stroke-width="1.8"/>
<line x1="76.28" y1="657.3" x2="76.28" y2="660.5" stroke="#000" stroke-width="1.8"/>
<line x1="90.02" y1="657.3" x2="90.02" y2="660.5" stroke="#000" stroke-width="1.8"/>
<line x1="103.76" y1="657.3" x2="103.76" y2="660.5" stroke="#000" stroke-width="1.8"/>
<line x1="117.51" y1="657.3" x2="117.51" y2="662.3" stroke="#000" stroke-width="1.8"/>
<text x="117.81" y="673" font-size="12" font-weight="bold" text-anchor="middle" textLength="15.51" lengthAdjust="spacingAndGlyphs">2,5</text>
<line x1="131.25" y1="657.3" x2="131.25" y2="660.5" stroke="#000" stroke-width="1.8"/>
<line x1="144.99" y1="657.3" x2="144.99" y2="660.5" stroke="#000" stroke-width="1.8"/>
<line x1="158.73" y1="657.3" x2="158.73" y2="660.5" stroke="#000" stroke-width="1.8"/>
<line x1="172.47" y1="657.3" x2="172.47" y2="660.5" stroke="#000" stroke-width="1.8"/>
<line x1="186.21" y1="657.3" x2="186.21" y2="662.3" stroke="#000" stroke-width="1.8"/>
<text x="186.51" y="673" font-size="12" font-weight="bold" text-anchor="middle" textLength="15.51" lengthAdjust="spacingAndGlyphs">5,0</text>
<line x1="199.95" y1="657.3" x2="199.95" y2="660.5" stroke="#000" stroke-width="1.8"/>
<line x1="213.69" y1="657.3" x2="213.69" y2="660.5" stroke="#000" stroke-width="1.8"/>
<line x1="227.43" y1="657.3" x2="227.43" y2="660.5" stroke="#000" stroke-width="1.8"/>
<line x1="241.18" y1="657.3" x2="241.18" y2="660.5" stroke="#000" stroke-width="1.8"/>
<line x1="254.92" y1="657.3" x2="254.92" y2="662.3" stroke="#000" stroke-width="1.8"/>
<text x="255.22" y="673" font-size="12" font-weight="bold" text-anchor="middle" textLength="15.51" lengthAdjust="spacingAndGlyphs">7,5</text>
<line x1="268.66" y1="657.3" x2="268.66" y2="660.5" stroke="#000" stroke-width="1.8"/>
<line x1="282.4" y1="657.3" x2="282.4" y2="660.5" stroke="#000" stroke-width="1.8"/>
<line x1="296.14" y1="657.3" x2="296.14" y2="660.5" stroke="#000" stroke-width="1.8"/>
<line x1="309.88" y1="657.3" x2="309.88" y2="660.5" stroke="#000" stroke-width="1.8"/>
<line x1="323.62" y1="657.3" x2="323.62" y2="662.3" stroke="#000" stroke-width="1.8"/>
<text x="323.92" y="673" font-size="12" font-weight="bold" text-anchor="middle" textLength="21.72" lengthAdjust="spacingAndGlyphs">10,0</text>
<line x1="337.36" y1="657.3" x2="337.36" y2="660.5" stroke="#000" stroke-width="1.8"/>
<line x1="351.1" y1="657.3" x2="351.1" y2="660.5" stroke="#000" stroke-width="1.8"/>
<line x1="364.85" y1="657.3" x2="364.85" y2="660.5" stroke="#000" stroke-width="1.8"/>
<line x1="378.59" y1="657.3" x2="378.59" y2="660.5" stroke="#000" stroke-width="1.8"/>
<line x1="392.33" y1="657.3" x2="392.33" y2="662.3" stroke="#000" stroke-width="1.8"/>
<text x="392.63" y="673" font-size="12" font-weight="bold" text-anchor="middle" textLength="21.72" lengthAdjust="spacingAndGlyphs">12,5</text>
<line x1="406.07" y1="657.3" x2="406.07" y2="660.5" stroke="#000" stroke-width="1.8"/>
<line x1="419.81" y1="657.3" x2="419.81" y2="660.5" stroke="#000" stroke-width="1.8"/>
<line x1="433.55" y1="657.3" x2="433.55" y2="660.5" stroke="#000" stroke-width="1.8"/>
<line x1="447.29" y1="657.3" x2="447.29" y2="660.5" stroke="#000" stroke-width="1.8"/>
<line x1="461.03" y1="657.3" x2="461.03" y2="662.3" stroke="#000" stroke-width="1.8"/>
<text x="461.33" y="673" font-size="12" font-weight="bold" text-anchor="middle" textLength="21.72" lengthAdjust="spacingAndGlyphs">15,0</text>
<line x1="474.77" y1="657.3" x2="474.77" y2="660.5" stroke="#000" stroke-width="1.8"/>
<line x1="488.52" y1="657.3" x2="488.52" y2="660.5" stroke="#000" stroke-width="1.8"/>
<line x1="502.26" y1="657.3" x2="502.26" y2="660.5" stroke="#000" stroke-width="1.8"/>
<line x1="516" y1="657.3" x2="516" y2="660.5" stroke="#000" stroke-width="1.8"/>
<line x1="529.74" y1="657.3" x2="529.74" y2="662.3" stroke="#000" stroke-width="1.8"/>
<text x="530.04" y="673" font-size="12" font-weight="bold" text-anchor="middle" textLength="21.72" lengthAdjust="spacingAndGlyphs">17,5</text>
<line x1="543.48" y1="657.3" x2="543.48" y2="660.5" stroke="#000" stroke-width="1.8"/>
<line x1="557.22" y1="657.3" x2="557.22" y2="660.5" stroke="#000" stroke-width="1.8"/>
<line x1="570.96" y1="657.3" x2="570.96" y2="660.5" stroke="#000" stroke-width="1.8"/>
<line x1="584.7" y1="657.3" x2="584.7" y2="660.5" stroke="#000" stroke-width="1.8"/>
<line x1="598.44" y1="657.3" x2="598.44" y2="662.3" stroke="#000" stroke-width="1.8"/>
<text x="598.74" y="673" font-size="12" font-weight="bold" text-anchor="middle" textLength="21.72" lengthAdjust="spacingAndGlyphs">20,0</text>
<line x1="612.19" y1="657.3" x2="612.19" y2="660.5" stroke="#000" stroke-width="1.8"/>
<line x1="625.93" y1="657.3" x2="625.93" y2="660.5" stroke="#000" stroke-width="1.8"/>
<line x1="639.67" y1="657.3" x2="639.67" y2="660.5" stroke="#000" stroke-width="1.8"/>
<line x1="653.41" y1="657.3" x2="653.41" y2="660.5" stroke="#000" stroke-width="1.8"/>
<line x1="667.15" y1="657.3" x2="667.15" y2="662.3" stroke="#000" stroke-width="1.8"/>
<text x="667.45" y="673" font-size="12" font-weight="bold" text-anchor="middle" textLength="21.72" lengthAdjust="spacingAndGlyphs">22,5</text>
<line x1="680.89" y1="657.3" x2="680.89" y2="660.5" stroke="#000" stroke-width="1.8"/>
<line x1="694.63" y1="657.3" x2="694.63" y2="660.5" stroke="#000" stroke-width="1.8"/>
<line x1="708.37" y1="657.3" x2="708.37" y2="660.5" stroke="#000" stroke-width="1.8"/>
<line x1="722.11" y1="657.3" x2="722.11" y2="660.5" stroke="#000" stroke-width="1.8"/>
<line x1="735.86" y1="657.3" x2="735.86" y2="662.3" stroke="#000" stroke-width="1.8"/>
<text x="736.16" y="673" font-size="12" font-weight="bold" text-anchor="middle" textLength="21.72" lengthAdjust="spacingAndGlyphs">25,0</text>
<line x1="749.6" y1="657.3" x2="749.6" y2="660.5" stroke="#000" stroke-width="1.8"/>
<line x1="763.34" y1="657.3" x2="763.34" y2="660.5" stroke="#000" stroke-width="1.8"/>
<line x1="777.08" y1="657.3" x2="777.08" y2="660.5" stroke="#000" stroke-width="1.8"/>
<line x1="790.82" y1="657.3" x2="790.82" y2="660.5" stroke="#000" stroke-width="1.8"/>
<line x1="804.56" y1="657.3" x2="804.56" y2="662.3" stroke="#000" stroke-width="1.8"/>
<text x="804.86" y="673" font-size="12" font-weight="bold" text-anchor="middle" textLength="21.72" lengthAdjust="spacingAndGlyphs">27,5</text>
<line x1="818.3" y1="657.3" x2="818.3" y2="660.5" stroke="#000" stroke-width="1.8"/>
<line x1="832.04" y1="657.3" x2="832.04" y2="660.5" stroke="#000" stroke-width="1.8"/>
<line x1="845.78" y1="657.3" x2="845.78" y2="660.5" stroke="#000" stroke-width="1.8"/>
<line x1="859.53" y1="657.3" x2="859.53" y2="660.5" stroke="#000" stroke-width="1.8"/>
<line x1="873.27" y1="657.3" x2="873.27" y2="662.3" stroke="#000" stroke-width="1.8"/>
<text x="873.57" y="673" font-size="12" font-weight="bold" text-anchor="middle" textLength="21.72" lengthAdjust="spacingAndGlyphs">30,0</text>
<line x1="887.01" y1="657.3" x2="887.01" y2="660.5" stroke="#000" stroke-width="1.8"/>
<line x1="900.75" y1="657.3" x2="900.75" y2="660.5" stroke="#000" stroke-width="1.8"/>
<line x1="914.49" y1="657.3" x2="914.49" y2="660.5" stroke="#000" stroke-width="1.8"/>
<line x1="928.23" y1="657.3" x2="928.23" y2="660.5" stroke="#000" stroke-width="1.8"/>
<line x1="941.97" y1="657.3" x2="941.97" y2="662.3" stroke="#000" stroke-width="1.8"/>
<text x="942.27" y="673" font-size="12" font-weight="bold" text-anchor="middle" textLength="21.72" lengthAdjust="spacingAndGlyphs">32,5</text>
<line x1="955.71" y1="657.3" x2="955.71" y2="660.5" stroke="#000" stroke-width="1.8"/>
<line x1="969.45" y1="657.3" x2="969.45" y2="660.5" stroke="#000" stroke-width="1.8"/>
<line x1="983.2" y1="657.3" x2="983.2" y2="660.5" stroke="#000" stroke-width="1.8"/>
<line x1="996.94" y1="657.3" x2="996.94" y2="660.5" stroke="#000" stroke-width="1.8"/>
<line x1="1010.68" y1="657.3" x2="1010.68" y2="662.3" stroke="#000" stroke-width="1.8"/>
<text x="1010.98" y="673" font-size="12" font-weight="bold" text-anchor="middle" textLength="21.72" lengthAdjust="spacingAndGlyphs">35,0</text>
<line x1="1024.42" y1="657.3" x2="1024.42" y2="660.5" stroke="#000" stroke-width="1.8"/>
<line x1="1038.16" y1="657.3" x2="1038.16" y2="660.5" stroke="#000" stroke-width="1.8"/>
<line x1="1051.9" y1="657.3" x2="1051.9" y2="660.5" stroke="#000" stroke-width="1.8"/>
<line x1="1065.64" y1="657.3" x2="1065.64" y2="660.5" stroke="#000" stroke-width="1.8"/>
<line x1="1079.38" y1="657.3" x2="1079.38" y2="662.3" stroke="#000" stroke-width="1.8"/>
<text x="1079.68" y="673" font-size="12" font-weight="bold" text-anchor="middle" textLength="21.72" lengthAdjust="spacingAndGlyphs">37,5</text>
<line x1="1093.12" y1="657.3" x2="1093.12" y2="660.5" stroke="#000" stroke-width="1.8"/>
<line x1="1106.87" y1="657.3" x2="1106.87" y2="660.5" stroke="#000" stroke-width="1.8"/>
<line x1="1120.61" y1="657.3" x2="1120.61" y2="660.5" stroke="#000" stroke-width="1.8"/>
<line x1="1134.35" y1="657.3" x2="1134.35" y2="660.5" stroke="#000" stroke-width="1.8"/>
<line x1="1148.09" y1="657.3" x2="1148.09" y2="662.3" stroke="#000" stroke-width="1.8"/>
<text x="1148.39" y="673" font-size="12" font-weight="bold" text-anchor="middle" textLength="21.72" lengthAdjust="spacingAndGlyphs">40,0</text>
<line x1="1161.83" y1="657.3" x2="1161.83" y2="660.5" stroke="#000" stroke-width="1.8"/>
<line x1="1175.57" y1="657.3" x2="1175.57" y2="660.5" stroke="#000" stroke-width="1.8"/>
<line x1="1189.31" y1="657.3" x2="1189.31" y2="660.5" stroke="#000" stroke-width="1.8"/>
<line x1="1203.05" y1="657.3" x2="1203.05" y2="660.5" stroke="#000" stroke-width="1.8"/>
<line x1="1216.79" y1="657.3" x2="1216.79" y2="662.3" stroke="#000" stroke-width="1.8"/>
<text x="1217.09" y="673" font-size="12" font-weight="bold" text-anchor="middle" textLength="21.72" lengthAdjust="spacingAndGlyphs">42,5</text>
<line x1="1230.54" y1="657.3" x2="1230.54" y2="660.5" stroke="#000" stroke-width="1.8"/>
<line x1="1244.28" y1="657.3" x2="1244.28" y2="660.5" stroke="#000" stroke-width="1.8"/>
<line x1="1258.02" y1="657.3" x2="1258.02" y2="660.5" stroke="#000" stroke-width="1.8"/>
<line x1="1271.76" y1="657.3" x2="1271.76" y2="660.5" stroke="#000" stroke-width="1.8"/>
<line x1="1285.5" y1="657.3" x2="1285.5" y2="662.3" stroke="#000" stroke-width="1.8"/>
<text x="1284.7" y="673" font-size="12" font-weight="bold" text-anchor="end" textLength="15.2" lengthAdjust="spacingAndGlyphs">min</text>
<rect x="48.3" y="365" width="80.8" height="13.1" fill="#fff" stroke="#000" stroke-width="1.6"/>
<text x="50.4" y="376.1" font-size="12" font-weight="bold" text-anchor="start" textLength="76" lengthAdjust="spacingAndGlyphs">UV Ch1 210nm</text>
<text transform="translate(71.8,463.75) scale(0.8660,1)" x="0" y="0" font-size="36.97" font-weight="bold" style="stroke-width:0.7px">B</text>
<text x="41.5" y="362.5" font-size="11.6" font-weight="bold" text-anchor="start" textLength="16.7" lengthAdjust="spacingAndGlyphs">mV</text>
<text x="1158.7" y="361.3" font-size="11.6" font-weight="bold" text-anchor="start" textLength="126.3" lengthAdjust="spacingAndGlyphs">Max Intensity : 2.564.015</text>
<text x="1294" y="361.6" font-size="11.6" font-weight="bold" text-anchor="start" textLength="63.8" lengthAdjust="spacingAndGlyphs">psi(x10,000)</text>
<text x="1006" y="375.5" font-size="11.4" font-weight="bold" text-anchor="start" textLength="21.6" lengthAdjust="spacingAndGlyphs">Time</text>
<text x="1037.6" y="375.5" font-size="11.4" font-weight="bold" text-anchor="start" textLength="35.4" lengthAdjust="spacingAndGlyphs">23,956</text>
<text x="1085.9" y="375.5" font-size="11.4" font-weight="bold" text-anchor="start" textLength="26.5" lengthAdjust="spacingAndGlyphs">Inten.</text>
<text x="1158.2" y="375.5" font-size="11.4" font-weight="bold" text-anchor="start" textLength="34.8" lengthAdjust="spacingAndGlyphs">89,474</text>
<text x="1206.7" y="375.5" font-size="11.4" font-weight="bold" text-anchor="start" textLength="31.1" lengthAdjust="spacingAndGlyphs">Press.</text>
<text x="1248.7" y="375.5" font-size="11.4" font-weight="bold" text-anchor="start" textLength="33.6" lengthAdjust="spacingAndGlyphs">956,31</text>
<text x="1246.8" y="387.7" font-size="11.4" font-weight="bold" text-anchor="start" textLength="36.8" lengthAdjust="spacingAndGlyphs">B.Conc</text>
<rect x="5" y="681.7" width="1359.6" height="4.6" fill="#fff"/>
<line x1="5" y1="683.9" x2="772.9" y2="683.9" stroke="#000" stroke-width="2.1"/>
<line x1="777.5" y1="683.9" x2="1364.6" y2="683.9" stroke="#000" stroke-width="2.1"/>
<rect x="50.8" y="701.6" width="1236.3" height="291.8" fill="#fff"/>
<g stroke-width="1" fill="none">
<line x1="119.5" y1="702.6" x2="119.5" y2="992.4" stroke="#a0a0a0" stroke-width="1.4" stroke-dasharray="3 3.4"/>
<line x1="188.5" y1="702.6" x2="188.5" y2="992.4" stroke="#a0a0a0" stroke-width="1.4" stroke-dasharray="3 3.4"/>
<line x1="256.5" y1="702.6" x2="256.5" y2="992.4" stroke="#a0a0a0" stroke-width="1.4" stroke-dasharray="3 3.4"/>
<line x1="325.5" y1="702.6" x2="325.5" y2="992.4" stroke="#a0a0a0" stroke-width="1.4" stroke-dasharray="3 3.4"/>
<line x1="394.5" y1="702.6" x2="394.5" y2="992.4" stroke="#a0a0a0" stroke-width="1.4" stroke-dasharray="3 3.4"/>
<line x1="462.5" y1="702.6" x2="462.5" y2="992.4" stroke="#a0a0a0" stroke-width="1.4" stroke-dasharray="3 3.4"/>
<line x1="531.5" y1="702.6" x2="531.5" y2="992.4" stroke="#a0a0a0" stroke-width="1.4" stroke-dasharray="3 3.4"/>
<line x1="600.5" y1="702.6" x2="600.5" y2="992.4" stroke="#a0a0a0" stroke-width="1.4" stroke-dasharray="3 3.4"/>
<line x1="668.5" y1="702.6" x2="668.5" y2="992.4" stroke="#a0a0a0" stroke-width="1.4" stroke-dasharray="3 3.4"/>
<line x1="737.5" y1="702.6" x2="737.5" y2="992.4" stroke="#a0a0a0" stroke-width="1.4" stroke-dasharray="3 3.4"/>
<line x1="806.5" y1="702.6" x2="806.5" y2="992.4" stroke="#a0a0a0" stroke-width="1.4" stroke-dasharray="3 3.4"/>
<line x1="874.5" y1="702.6" x2="874.5" y2="992.4" stroke="#a0a0a0" stroke-width="1.4" stroke-dasharray="3 3.4"/>
<line x1="943.5" y1="702.6" x2="943.5" y2="992.4" stroke="#a0a0a0" stroke-width="1.4" stroke-dasharray="3 3.4"/>
<line x1="1012.5" y1="702.6" x2="1012.5" y2="992.4" stroke="#a0a0a0" stroke-width="1.4" stroke-dasharray="3 3.4"/>
<line x1="1081.5" y1="702.6" x2="1081.5" y2="992.4" stroke="#a0a0a0" stroke-width="1.4" stroke-dasharray="3 3.4"/>
<line x1="1149.5" y1="702.6" x2="1149.5" y2="992.4" stroke="#a0a0a0" stroke-width="1.4" stroke-dasharray="3 3.4"/>
<line x1="1218.5" y1="702.6" x2="1218.5" y2="992.4" stroke="#a0a0a0" stroke-width="1.4" stroke-dasharray="3 3.4"/>
<line x1="51.8" y1="729.5" x2="1286.1" y2="729.5" stroke="#c0c0c0" stroke-width="1.4" stroke-dasharray="3.2 3.2"/>
<line x1="51.8" y1="794.5" x2="1286.1" y2="794.5" stroke="#c0c0c0" stroke-width="1.4" stroke-dasharray="3.2 3.2"/>
<line x1="51.8" y1="860.5" x2="1286.1" y2="860.5" stroke="#c0c0c0" stroke-width="1.4" stroke-dasharray="3.2 3.2"/>
<line x1="51.8" y1="925.5" x2="1286.1" y2="925.5" stroke="#c0c0c0" stroke-width="1.4" stroke-dasharray="3.2 3.2"/>
<line x1="51.8" y1="990.5" x2="1286.1" y2="990.5" stroke="#c0c0c0" stroke-width="1.4" stroke-dasharray="3.2 3.2"/>
</g>
<clipPath id="clipC"><rect x="50.8" y="701.6" width="1236.3" height="291.8"/></clipPath>
<g clip-path="url(#clipC)">
<polyline points="50.8,977.6 189.82,977.6 874.45,817.79 1010.99,716.9 1149.18,716.9 1287.1,977.6" fill="none" stroke="#000" stroke-width="1.9" stroke-linejoin="round" stroke-linecap="round"/>
<polyline points="51,860.8 100,860.7 110.5,859.8 114.1,858.6 118.8,857.2 122.3,857.8 124,863 124.8,870.1 125.5,878.3 126,871.3 126.7,781 127.9,773.4 128.7,784.5 130.5,792.7 131.6,795.1 131.9,819.7 132.2,863 133.4,864.2 134,886.5 135.2,890 136.3,886.5 137.5,866.6 139.8,861.3 141.6,859.5 143.1,854.8 144.3,858.9 147.5,862.8 158.6,863 159.8,861.9 160.4,833.8 160.9,763.4 161.9,750.5 162.5,763.4 163.3,764.6 163.9,820.9 165,851.3 166.8,860.7 170.3,863.6 186.7,863.6 190,862.8 199.2,860.6 212,860.6 223.2,857.4 234.4,857.4 237.6,858.7 269.6,858.7 272.8,860 333.6,860 356,857.4 397.6,854.6 461.6,849.8 500,844.6 512.8,841.8 532,841.4 551.2,844 592.8,844 599.2,842.4 615.7,842.8 617,841.5 632.7,841 634.3,832.8 635.6,833.4 636.7,841 649.4,840.4 650.5,837.8 651.3,832 652,831.6 652.7,837.1 653.8,837.8 655.2,836.4 656.7,832 658.2,829.1 658.9,825.4 659.6,823.2 659.6,793.2 660.7,793.2 660.7,758.8 662,756.2 662.4,758 662.4,781.5 663.7,781.5 663.7,817.3 664.4,818.1 664.4,828.3 666.2,830.5 668.4,831.3 670.6,834.9 672.1,836.4 674,837.5 678.5,838.4 702.1,837.6 727,836.7 753.2,835.4 776.7,834.1 806.3,833 875.7,831.1 1006.7,830.3 1029.9,833 1060.7,838.8 1091.5,848.4 1122.4,858.8 1145.5,865 1149.4,866.5 1276.6,866.5 1288,861.9" fill="none" stroke="#000" stroke-width="1.9" stroke-linejoin="round" stroke-linecap="round"/>
<polyline points="634.3,841.5 672.7,838.4" fill="none" stroke="#000" stroke-width="1.5"/>
<polyline points="630.9,845.8 634.3,840.8 637.7,845.8" fill="none" stroke="#000" stroke-width="1.5"/><line x1="634.3" y1="840.8" x2="634.3" y2="849.1" stroke="#000" stroke-width="1.5"/>
<polyline points="669.3,833.4 672.7,838.4 676.1,833.4" fill="none" stroke="#000" stroke-width="1.5"/><line x1="672.7" y1="838.4" x2="672.7" y2="830.1" stroke="#000" stroke-width="1.5"/>
</g>
<line x1="50.5" y1="701.6" x2="1288.1" y2="701.6" stroke="#000" stroke-width="2"/>
<line x1="50.5" y1="700.6" x2="50.5" y2="994.4" stroke="#000" stroke-width="2"/>
<line x1="49.5" y1="993.4" x2="1288.1" y2="993.4" stroke="#000" stroke-width="2"/>
<line x1="1287.1" y1="700.6" x2="1287.1" y2="998.4" stroke="#000" stroke-width="2"/>
<line x1="42.5" y1="990.68" x2="50.5" y2="990.68" stroke="#000" stroke-width="1.8"/>
<line x1="46.5" y1="977.63" x2="50.5" y2="977.63" stroke="#000" stroke-width="1.8"/>
<line x1="46.5" y1="964.58" x2="50.5" y2="964.58" stroke="#000" stroke-width="1.8"/>
<line x1="46.5" y1="951.54" x2="50.5" y2="951.54" stroke="#000" stroke-width="1.8"/>
<line x1="46.5" y1="938.49" x2="50.5" y2="938.49" stroke="#000" stroke-width="1.8"/>
<line x1="42.5" y1="925.44" x2="50.5" y2="925.44" stroke="#000" stroke-width="1.8"/>
<line x1="46.5" y1="912.39" x2="50.5" y2="912.39" stroke="#000" stroke-width="1.8"/>
<line x1="46.5" y1="899.34" x2="50.5" y2="899.34" stroke="#000" stroke-width="1.8"/>
<line x1="46.5" y1="886.3" x2="50.5" y2="886.3" stroke="#000" stroke-width="1.8"/>
<line x1="46.5" y1="873.25" x2="50.5" y2="873.25" stroke="#000" stroke-width="1.8"/>
<line x1="42.5" y1="860.2" x2="50.5" y2="860.2" stroke="#000" stroke-width="1.8"/>
<line x1="46.5" y1="847.15" x2="50.5" y2="847.15" stroke="#000" stroke-width="1.8"/>
<line x1="46.5" y1="834.1" x2="50.5" y2="834.1" stroke="#000" stroke-width="1.8"/>
<line x1="46.5" y1="821.06" x2="50.5" y2="821.06" stroke="#000" stroke-width="1.8"/>
<line x1="46.5" y1="808.01" x2="50.5" y2="808.01" stroke="#000" stroke-width="1.8"/>
<line x1="42.5" y1="794.96" x2="50.5" y2="794.96" stroke="#000" stroke-width="1.8"/>
<line x1="46.5" y1="781.91" x2="50.5" y2="781.91" stroke="#000" stroke-width="1.8"/>
<line x1="46.5" y1="768.86" x2="50.5" y2="768.86" stroke="#000" stroke-width="1.8"/>
<line x1="46.5" y1="755.82" x2="50.5" y2="755.82" stroke="#000" stroke-width="1.8"/>
<line x1="46.5" y1="742.77" x2="50.5" y2="742.77" stroke="#000" stroke-width="1.8"/>
<line x1="42.5" y1="729.72" x2="50.5" y2="729.72" stroke="#000" stroke-width="1.8"/>
<line x1="46.5" y1="716.67" x2="50.5" y2="716.67" stroke="#000" stroke-width="1.8"/>
<line x1="46.5" y1="703.62" x2="50.5" y2="703.62" stroke="#000" stroke-width="1.8"/>
<text x="42.9" y="734.02" font-size="12" font-weight="bold" text-anchor="end" textLength="18.62" lengthAdjust="spacingAndGlyphs">500</text>
<text x="42.9" y="799.26" font-size="12" font-weight="bold" text-anchor="end" textLength="18.62" lengthAdjust="spacingAndGlyphs">250</text>
<text x="42.9" y="864.5" font-size="12" font-weight="bold" text-anchor="end" textLength="6.21" lengthAdjust="spacingAndGlyphs">0</text>
<text x="42.9" y="929.74" font-size="12" font-weight="bold" text-anchor="end" textLength="22.33" lengthAdjust="spacingAndGlyphs">-250</text>
<text x="42.9" y="994.98" font-size="12" font-weight="bold" text-anchor="end" textLength="22.33" lengthAdjust="spacingAndGlyphs">-500</text>
<line x1="1287.1" y1="992.6" x2="1293.4" y2="992.6" stroke="#000" stroke-width="1.8"/>
<text x="1295.5" y="996.3" font-size="12" font-weight="bold" text-anchor="start" textLength="21.8" lengthAdjust="spacingAndGlyphs">0,00</text>
<line x1="1287.1" y1="982.6" x2="1290.5" y2="982.6" stroke="#000" stroke-width="1.8"/>
<line x1="1287.1" y1="972.6" x2="1290.5" y2="972.6" stroke="#000" stroke-width="1.8"/>
<line x1="1287.1" y1="962.6" x2="1290.5" y2="962.6" stroke="#000" stroke-width="1.8"/>
<line x1="1287.1" y1="952.6" x2="1290.5" y2="952.6" stroke="#000" stroke-width="1.8"/>
<line x1="1287.1" y1="942.6" x2="1293.4" y2="942.6" stroke="#000" stroke-width="1.8"/>
<text x="1295.5" y="946.3" font-size="12" font-weight="bold" text-anchor="start" textLength="21.8" lengthAdjust="spacingAndGlyphs">0,25</text>
<line x1="1287.1" y1="932.6" x2="1290.5" y2="932.6" stroke="#000" stroke-width="1.8"/>
<line x1="1287.1" y1="922.6" x2="1290.5" y2="922.6" stroke="#000" stroke-width="1.8"/>
<line x1="1287.1" y1="912.6" x2="1290.5" y2="912.6" stroke="#000" stroke-width="1.8"/>
<line x1="1287.1" y1="902.6" x2="1290.5" y2="902.6" stroke="#000" stroke-width="1.8"/>
<line x1="1287.1" y1="892.6" x2="1293.4" y2="892.6" stroke="#000" stroke-width="1.8"/>
<text x="1295.5" y="896.3" font-size="12" font-weight="bold" text-anchor="start" textLength="21.8" lengthAdjust="spacingAndGlyphs">0,50</text>
<line x1="1287.1" y1="882.6" x2="1290.5" y2="882.6" stroke="#000" stroke-width="1.8"/>
<line x1="1287.1" y1="872.6" x2="1290.5" y2="872.6" stroke="#000" stroke-width="1.8"/>
<line x1="1287.1" y1="862.6" x2="1290.5" y2="862.6" stroke="#000" stroke-width="1.8"/>
<line x1="1287.1" y1="852.6" x2="1290.5" y2="852.6" stroke="#000" stroke-width="1.8"/>
<line x1="1287.1" y1="842.6" x2="1293.4" y2="842.6" stroke="#000" stroke-width="1.8"/>
<text x="1295.5" y="846.3" font-size="12" font-weight="bold" text-anchor="start" textLength="21.8" lengthAdjust="spacingAndGlyphs">0,75</text>
<line x1="1287.1" y1="832.6" x2="1290.5" y2="832.6" stroke="#000" stroke-width="1.8"/>
<line x1="1287.1" y1="822.6" x2="1290.5" y2="822.6" stroke="#000" stroke-width="1.8"/>
<line x1="1287.1" y1="812.6" x2="1290.5" y2="812.6" stroke="#000" stroke-width="1.8"/>
<line x1="1287.1" y1="802.6" x2="1290.5" y2="802.6" stroke="#000" stroke-width="1.8"/>
<line x1="1287.1" y1="792.6" x2="1293.4" y2="792.6" stroke="#000" stroke-width="1.8"/>
<text x="1295.5" y="796.3" font-size="12" font-weight="bold" text-anchor="start" textLength="21.8" lengthAdjust="spacingAndGlyphs">1,00</text>
<line x1="1287.1" y1="782.6" x2="1290.5" y2="782.6" stroke="#000" stroke-width="1.8"/>
<line x1="1287.1" y1="772.6" x2="1290.5" y2="772.6" stroke="#000" stroke-width="1.8"/>
<line x1="1287.1" y1="762.6" x2="1290.5" y2="762.6" stroke="#000" stroke-width="1.8"/>
<line x1="1287.1" y1="752.6" x2="1290.5" y2="752.6" stroke="#000" stroke-width="1.8"/>
<line x1="1287.1" y1="742.6" x2="1293.4" y2="742.6" stroke="#000" stroke-width="1.8"/>
<text x="1295.5" y="746.3" font-size="12" font-weight="bold" text-anchor="start" textLength="21.8" lengthAdjust="spacingAndGlyphs">1,25</text>
<line x1="1287.1" y1="732.6" x2="1290.5" y2="732.6" stroke="#000" stroke-width="1.8"/>
<line x1="1287.1" y1="722.6" x2="1290.5" y2="722.6" stroke="#000" stroke-width="1.8"/>
<line x1="1287.1" y1="712.6" x2="1290.5" y2="712.6" stroke="#000" stroke-width="1.8"/>
<line x1="1287.1" y1="702.6" x2="1290.5" y2="702.6" stroke="#000" stroke-width="1.8"/>
<line x1="50.8" y1="993.4" x2="50.8" y2="998.4" stroke="#000" stroke-width="1.8"/>
<text x="51.1" y="1009.1" font-size="12" font-weight="bold" text-anchor="middle" textLength="15.51" lengthAdjust="spacingAndGlyphs">0,0</text>
<line x1="64.54" y1="993.4" x2="64.54" y2="996.6" stroke="#000" stroke-width="1.8"/>
<line x1="78.27" y1="993.4" x2="78.27" y2="996.6" stroke="#000" stroke-width="1.8"/>
<line x1="92.01" y1="993.4" x2="92.01" y2="996.6" stroke="#000" stroke-width="1.8"/>
<line x1="105.75" y1="993.4" x2="105.75" y2="996.6" stroke="#000" stroke-width="1.8"/>
<line x1="119.48" y1="993.4" x2="119.48" y2="998.4" stroke="#000" stroke-width="1.8"/>
<text x="119.78" y="1009.1" font-size="12" font-weight="bold" text-anchor="middle" textLength="15.51" lengthAdjust="spacingAndGlyphs">2,5</text>
<line x1="133.22" y1="993.4" x2="133.22" y2="996.6" stroke="#000" stroke-width="1.8"/>
<line x1="146.96" y1="993.4" x2="146.96" y2="996.6" stroke="#000" stroke-width="1.8"/>
<line x1="160.69" y1="993.4" x2="160.69" y2="996.6" stroke="#000" stroke-width="1.8"/>
<line x1="174.43" y1="993.4" x2="174.43" y2="996.6" stroke="#000" stroke-width="1.8"/>
<line x1="188.17" y1="993.4" x2="188.17" y2="998.4" stroke="#000" stroke-width="1.8"/>
<text x="188.47" y="1009.1" font-size="12" font-weight="bold" text-anchor="middle" textLength="15.51" lengthAdjust="spacingAndGlyphs">5,0</text>
<line x1="201.9" y1="993.4" x2="201.9" y2="996.6" stroke="#000" stroke-width="1.8"/>
<line x1="215.64" y1="993.4" x2="215.64" y2="996.6" stroke="#000" stroke-width="1.8"/>
<line x1="229.38" y1="993.4" x2="229.38" y2="996.6" stroke="#000" stroke-width="1.8"/>
<line x1="243.11" y1="993.4" x2="243.11" y2="996.6" stroke="#000" stroke-width="1.8"/>
<line x1="256.85" y1="993.4" x2="256.85" y2="998.4" stroke="#000" stroke-width="1.8"/>
<text x="257.15" y="1009.1" font-size="12" font-weight="bold" text-anchor="middle" textLength="15.51" lengthAdjust="spacingAndGlyphs">7,5</text>
<line x1="270.59" y1="993.4" x2="270.59" y2="996.6" stroke="#000" stroke-width="1.8"/>
<line x1="284.32" y1="993.4" x2="284.32" y2="996.6" stroke="#000" stroke-width="1.8"/>
<line x1="298.06" y1="993.4" x2="298.06" y2="996.6" stroke="#000" stroke-width="1.8"/>
<line x1="311.8" y1="993.4" x2="311.8" y2="996.6" stroke="#000" stroke-width="1.8"/>
<line x1="325.53" y1="993.4" x2="325.53" y2="998.4" stroke="#000" stroke-width="1.8"/>
<text x="325.83" y="1009.1" font-size="12" font-weight="bold" text-anchor="middle" textLength="21.72" lengthAdjust="spacingAndGlyphs">10,0</text>
<line x1="339.27" y1="993.4" x2="339.27" y2="996.6" stroke="#000" stroke-width="1.8"/>
<line x1="353.01" y1="993.4" x2="353.01" y2="996.6" stroke="#000" stroke-width="1.8"/>
<line x1="366.74" y1="993.4" x2="366.74" y2="996.6" stroke="#000" stroke-width="1.8"/>
<line x1="380.48" y1="993.4" x2="380.48" y2="996.6" stroke="#000" stroke-width="1.8"/>
<line x1="394.22" y1="993.4" x2="394.22" y2="998.4" stroke="#000" stroke-width="1.8"/>
<text x="394.52" y="1009.1" font-size="12" font-weight="bold" text-anchor="middle" textLength="21.72" lengthAdjust="spacingAndGlyphs">12,5</text>
<line x1="407.95" y1="993.4" x2="407.95" y2="996.6" stroke="#000" stroke-width="1.8"/>
<line x1="421.69" y1="993.4" x2="421.69" y2="996.6" stroke="#000" stroke-width="1.8"/>
<line x1="435.43" y1="993.4" x2="435.43" y2="996.6" stroke="#000" stroke-width="1.8"/>
<line x1="449.16" y1="993.4" x2="449.16" y2="996.6" stroke="#000" stroke-width="1.8"/>
<line x1="462.9" y1="993.4" x2="462.9" y2="998.4" stroke="#000" stroke-width="1.8"/>
<text x="463.2" y="1009.1" font-size="12" font-weight="bold" text-anchor="middle" textLength="21.72" lengthAdjust="spacingAndGlyphs">15,0</text>
<line x1="476.64" y1="993.4" x2="476.64" y2="996.6" stroke="#000" stroke-width="1.8"/>
<line x1="490.37" y1="993.4" x2="490.37" y2="996.6" stroke="#000" stroke-width="1.8"/>
<line x1="504.11" y1="993.4" x2="504.11" y2="996.6" stroke="#000" stroke-width="1.8"/>
<line x1="517.85" y1="993.4" x2="517.85" y2="996.6" stroke="#000" stroke-width="1.8"/>
<line x1="531.58" y1="993.4" x2="531.58" y2="998.4" stroke="#000" stroke-width="1.8"/>
<text x="531.88" y="1009.1" font-size="12" font-weight="bold" text-anchor="middle" textLength="21.72" lengthAdjust="spacingAndGlyphs">17,5</text>
<line x1="545.32" y1="993.4" x2="545.32" y2="996.6" stroke="#000" stroke-width="1.8"/>
<line x1="559.06" y1="993.4" x2="559.06" y2="996.6" stroke="#000" stroke-width="1.8"/>
<line x1="572.79" y1="993.4" x2="572.79" y2="996.6" stroke="#000" stroke-width="1.8"/>
<line x1="586.53" y1="993.4" x2="586.53" y2="996.6" stroke="#000" stroke-width="1.8"/>
<line x1="600.27" y1="993.4" x2="600.27" y2="998.4" stroke="#000" stroke-width="1.8"/>
<text x="600.57" y="1009.1" font-size="12" font-weight="bold" text-anchor="middle" textLength="21.72" lengthAdjust="spacingAndGlyphs">20,0</text>
<line x1="614" y1="993.4" x2="614" y2="996.6" stroke="#000" stroke-width="1.8"/>
<line x1="627.74" y1="993.4" x2="627.74" y2="996.6" stroke="#000" stroke-width="1.8"/>
<line x1="641.48" y1="993.4" x2="641.48" y2="996.6" stroke="#000" stroke-width="1.8"/>
<line x1="655.21" y1="993.4" x2="655.21" y2="996.6" stroke="#000" stroke-width="1.8"/>
<line x1="668.95" y1="993.4" x2="668.95" y2="998.4" stroke="#000" stroke-width="1.8"/>
<text x="669.25" y="1009.1" font-size="12" font-weight="bold" text-anchor="middle" textLength="21.72" lengthAdjust="spacingAndGlyphs">22,5</text>
<line x1="682.69" y1="993.4" x2="682.69" y2="996.6" stroke="#000" stroke-width="1.8"/>
<line x1="696.42" y1="993.4" x2="696.42" y2="996.6" stroke="#000" stroke-width="1.8"/>
<line x1="710.16" y1="993.4" x2="710.16" y2="996.6" stroke="#000" stroke-width="1.8"/>
<line x1="723.9" y1="993.4" x2="723.9" y2="996.6" stroke="#000" stroke-width="1.8"/>
<line x1="737.63" y1="993.4" x2="737.63" y2="998.4" stroke="#000" stroke-width="1.8"/>
<text x="737.93" y="1009.1" font-size="12" font-weight="bold" text-anchor="middle" textLength="21.72" lengthAdjust="spacingAndGlyphs">25,0</text>
<line x1="751.37" y1="993.4" x2="751.37" y2="996.6" stroke="#000" stroke-width="1.8"/>
<line x1="765.11" y1="993.4" x2="765.11" y2="996.6" stroke="#000" stroke-width="1.8"/>
<line x1="778.84" y1="993.4" x2="778.84" y2="996.6" stroke="#000" stroke-width="1.8"/>
<line x1="792.58" y1="993.4" x2="792.58" y2="996.6" stroke="#000" stroke-width="1.8"/>
<line x1="806.32" y1="993.4" x2="806.32" y2="998.4" stroke="#000" stroke-width="1.8"/>
<text x="806.62" y="1009.1" font-size="12" font-weight="bold" text-anchor="middle" textLength="21.72" lengthAdjust="spacingAndGlyphs">27,5</text>
<line x1="820.05" y1="993.4" x2="820.05" y2="996.6" stroke="#000" stroke-width="1.8"/>
<line x1="833.79" y1="993.4" x2="833.79" y2="996.6" stroke="#000" stroke-width="1.8"/>
<line x1="847.53" y1="993.4" x2="847.53" y2="996.6" stroke="#000" stroke-width="1.8"/>
<line x1="861.26" y1="993.4" x2="861.26" y2="996.6" stroke="#000" stroke-width="1.8"/>
<line x1="875" y1="993.4" x2="875" y2="998.4" stroke="#000" stroke-width="1.8"/>
<text x="875.3" y="1009.1" font-size="12" font-weight="bold" text-anchor="middle" textLength="21.72" lengthAdjust="spacingAndGlyphs">30,0</text>
<line x1="888.74" y1="993.4" x2="888.74" y2="996.6" stroke="#000" stroke-width="1.8"/>
<line x1="902.47" y1="993.4" x2="902.47" y2="996.6" stroke="#000" stroke-width="1.8"/>
<line x1="916.21" y1="993.4" x2="916.21" y2="996.6" stroke="#000" stroke-width="1.8"/>
<line x1="929.95" y1="993.4" x2="929.95" y2="996.6" stroke="#000" stroke-width="1.8"/>
<line x1="943.68" y1="993.4" x2="943.68" y2="998.4" stroke="#000" stroke-width="1.8"/>
<text x="943.98" y="1009.1" font-size="12" font-weight="bold" text-anchor="middle" textLength="21.72" lengthAdjust="spacingAndGlyphs">32,5</text>
<line x1="957.42" y1="993.4" x2="957.42" y2="996.6" stroke="#000" stroke-width="1.8"/>
<line x1="971.16" y1="993.4" x2="971.16" y2="996.6" stroke="#000" stroke-width="1.8"/>
<line x1="984.89" y1="993.4" x2="984.89" y2="996.6" stroke="#000" stroke-width="1.8"/>
<line x1="998.63" y1="993.4" x2="998.63" y2="996.6" stroke="#000" stroke-width="1.8"/>
<line x1="1012.37" y1="993.4" x2="1012.37" y2="998.4" stroke="#000" stroke-width="1.8"/>
<text x="1012.67" y="1009.1" font-size="12" font-weight="bold" text-anchor="middle" textLength="21.72" lengthAdjust="spacingAndGlyphs">35,0</text>
<line x1="1026.1" y1="993.4" x2="1026.1" y2="996.6" stroke="#000" stroke-width="1.8"/>
<line x1="1039.84" y1="993.4" x2="1039.84" y2="996.6" stroke="#000" stroke-width="1.8"/>
<line x1="1053.58" y1="993.4" x2="1053.58" y2="996.6" stroke="#000" stroke-width="1.8"/>
<line x1="1067.31" y1="993.4" x2="1067.31" y2="996.6" stroke="#000" stroke-width="1.8"/>
<line x1="1081.05" y1="993.4" x2="1081.05" y2="998.4" stroke="#000" stroke-width="1.8"/>
<text x="1081.35" y="1009.1" font-size="12" font-weight="bold" text-anchor="middle" textLength="21.72" lengthAdjust="spacingAndGlyphs">37,5</text>
<line x1="1094.79" y1="993.4" x2="1094.79" y2="996.6" stroke="#000" stroke-width="1.8"/>
<line x1="1108.52" y1="993.4" x2="1108.52" y2="996.6" stroke="#000" stroke-width="1.8"/>
<line x1="1122.26" y1="993.4" x2="1122.26" y2="996.6" stroke="#000" stroke-width="1.8"/>
<line x1="1136" y1="993.4" x2="1136" y2="996.6" stroke="#000" stroke-width="1.8"/>
<line x1="1149.73" y1="993.4" x2="1149.73" y2="998.4" stroke="#000" stroke-width="1.8"/>
<text x="1150.03" y="1009.1" font-size="12" font-weight="bold" text-anchor="middle" textLength="21.72" lengthAdjust="spacingAndGlyphs">40,0</text>
<line x1="1163.47" y1="993.4" x2="1163.47" y2="996.6" stroke="#000" stroke-width="1.8"/>
<line x1="1177.21" y1="993.4" x2="1177.21" y2="996.6" stroke="#000" stroke-width="1.8"/>
<line x1="1190.94" y1="993.4" x2="1190.94" y2="996.6" stroke="#000" stroke-width="1.8"/>
<line x1="1204.68" y1="993.4" x2="1204.68" y2="996.6" stroke="#000" stroke-width="1.8"/>
<line x1="1218.42" y1="993.4" x2="1218.42" y2="998.4" stroke="#000" stroke-width="1.8"/>
<text x="1218.72" y="1009.1" font-size="12" font-weight="bold" text-anchor="middle" textLength="21.72" lengthAdjust="spacingAndGlyphs">42,5</text>
<line x1="1232.15" y1="993.4" x2="1232.15" y2="996.6" stroke="#000" stroke-width="1.8"/>
<line x1="1245.89" y1="993.4" x2="1245.89" y2="996.6" stroke="#000" stroke-width="1.8"/>
<line x1="1259.63" y1="993.4" x2="1259.63" y2="996.6" stroke="#000" stroke-width="1.8"/>
<line x1="1273.36" y1="993.4" x2="1273.36" y2="996.6" stroke="#000" stroke-width="1.8"/>
<line x1="1287.1" y1="993.4" x2="1287.1" y2="998.4" stroke="#000" stroke-width="1.8"/>
<text x="1286.3" y="1009.1" font-size="12" font-weight="bold" text-anchor="end" textLength="15.2" lengthAdjust="spacingAndGlyphs">min</text>
<rect x="50.5" y="701.6" width="80.8" height="12.8" fill="#fff" stroke="#000" stroke-width="1.6"/>
<text x="52.6" y="712.4" font-size="12" font-weight="bold" text-anchor="start" textLength="77.5" lengthAdjust="spacingAndGlyphs">UV Ch1 210nm</text>
<text transform="translate(72.1,790.56) scale(0.7806,1)" x="0" y="0" font-size="39.04" font-weight="bold" style="stroke-width:0.7px">C</text>
<text x="44" y="699" font-size="11.6" font-weight="bold" text-anchor="start" textLength="16" lengthAdjust="spacingAndGlyphs">mV</text>
<text x="1170.4" y="696.9" font-size="11.6" font-weight="bold" text-anchor="start" textLength="117.3" lengthAdjust="spacingAndGlyphs">Max Intensity : 418.470</text>
<text x="1295.9" y="697.2" font-size="11.6" font-weight="bold" text-anchor="start" textLength="64.1" lengthAdjust="spacingAndGlyphs">psi(x10,000)</text>
<text x="1007.6" y="710.8" font-size="11.4" font-weight="bold" text-anchor="start" textLength="21.4" lengthAdjust="spacingAndGlyphs">Time</text>
<text x="1046.9" y="710.8" font-size="11.4" font-weight="bold" text-anchor="start" textLength="27.3" lengthAdjust="spacingAndGlyphs">0,544</text>
<text x="1087.8" y="710.8" font-size="11.4" font-weight="bold" text-anchor="start" textLength="26.7" lengthAdjust="spacingAndGlyphs">Inten.</text>
<text x="1162.3" y="710.8" font-size="11.4" font-weight="bold" text-anchor="start" textLength="32.7" lengthAdjust="spacingAndGlyphs">-1,003</text>
<text x="1208.6" y="710.8" font-size="11.4" font-weight="bold" text-anchor="start" textLength="31.9" lengthAdjust="spacingAndGlyphs">Press.</text>
<text x="1257.7" y="710.8" font-size="11.4" font-weight="bold" text-anchor="start" textLength="28.1" lengthAdjust="spacingAndGlyphs">53,13</text>
<text x="1248.7" y="723.6" font-size="11.4" font-weight="bold" text-anchor="start" textLength="38.2" lengthAdjust="spacingAndGlyphs">B.Conc</text>
<rect x="5" y="1017.8" width="1361.5" height="4.6" fill="#fff"/>
<line x1="5" y1="1020" x2="774.6" y2="1020" stroke="#000" stroke-width="2.1"/>
<line x1="779.8" y1="1020" x2="1366.5" y2="1020" stroke="#000" stroke-width="2.1"/>
<rect x="49.5" y="1042.9" width="1236.3" height="293.8" fill="#fff"/>
<g stroke-width="1" fill="none">
<line x1="118.5" y1="1043.9" x2="118.5" y2="1335.7" stroke="#a0a0a0" stroke-width="1.4" stroke-dasharray="3 3.4"/>
<line x1="186.5" y1="1043.9" x2="186.5" y2="1335.7" stroke="#a0a0a0" stroke-width="1.4" stroke-dasharray="3 3.4"/>
<line x1="255.5" y1="1043.9" x2="255.5" y2="1335.7" stroke="#a0a0a0" stroke-width="1.4" stroke-dasharray="3 3.4"/>
<line x1="324.5" y1="1043.9" x2="324.5" y2="1335.7" stroke="#a0a0a0" stroke-width="1.4" stroke-dasharray="3 3.4"/>
<line x1="392.5" y1="1043.9" x2="392.5" y2="1335.7" stroke="#a0a0a0" stroke-width="1.4" stroke-dasharray="3 3.4"/>
<line x1="461.5" y1="1043.9" x2="461.5" y2="1335.7" stroke="#a0a0a0" stroke-width="1.4" stroke-dasharray="3 3.4"/>
<line x1="530.5" y1="1043.9" x2="530.5" y2="1335.7" stroke="#a0a0a0" stroke-width="1.4" stroke-dasharray="3 3.4"/>
<line x1="598.5" y1="1043.9" x2="598.5" y2="1335.7" stroke="#a0a0a0" stroke-width="1.4" stroke-dasharray="3 3.4"/>
<line x1="667.5" y1="1043.9" x2="667.5" y2="1335.7" stroke="#a0a0a0" stroke-width="1.4" stroke-dasharray="3 3.4"/>
<line x1="736.5" y1="1043.9" x2="736.5" y2="1335.7" stroke="#a0a0a0" stroke-width="1.4" stroke-dasharray="3 3.4"/>
<line x1="805.5" y1="1043.9" x2="805.5" y2="1335.7" stroke="#a0a0a0" stroke-width="1.4" stroke-dasharray="3 3.4"/>
<line x1="873.5" y1="1043.9" x2="873.5" y2="1335.7" stroke="#a0a0a0" stroke-width="1.4" stroke-dasharray="3 3.4"/>
<line x1="942.5" y1="1043.9" x2="942.5" y2="1335.7" stroke="#a0a0a0" stroke-width="1.4" stroke-dasharray="3 3.4"/>
<line x1="1011.5" y1="1043.9" x2="1011.5" y2="1335.7" stroke="#a0a0a0" stroke-width="1.4" stroke-dasharray="3 3.4"/>
<line x1="1079.5" y1="1043.9" x2="1079.5" y2="1335.7" stroke="#a0a0a0" stroke-width="1.4" stroke-dasharray="3 3.4"/>
<line x1="1148.5" y1="1043.9" x2="1148.5" y2="1335.7" stroke="#a0a0a0" stroke-width="1.4" stroke-dasharray="3 3.4"/>
<line x1="1217.5" y1="1043.9" x2="1217.5" y2="1335.7" stroke="#a0a0a0" stroke-width="1.4" stroke-dasharray="3 3.4"/>
<line x1="50.5" y1="1099.5" x2="1284.8" y2="1099.5" stroke="#c0c0c0" stroke-width="1.4" stroke-dasharray="3.2 3.2"/>
<line x1="50.5" y1="1155.5" x2="1284.8" y2="1155.5" stroke="#c0c0c0" stroke-width="1.4" stroke-dasharray="3.2 3.2"/>
<line x1="50.5" y1="1211.5" x2="1284.8" y2="1211.5" stroke="#c0c0c0" stroke-width="1.4" stroke-dasharray="3.2 3.2"/>
<line x1="50.5" y1="1267.5" x2="1284.8" y2="1267.5" stroke="#c0c0c0" stroke-width="1.4" stroke-dasharray="3.2 3.2"/>
<line x1="50.5" y1="1323.5" x2="1284.8" y2="1323.5" stroke="#c0c0c0" stroke-width="1.4" stroke-dasharray="3.2 3.2"/>
</g>
<clipPath id="clipD"><rect x="49.5" y="1042.9" width="1236.3" height="293.8"/></clipPath>
<g clip-path="url(#clipD)">
<polyline points="49.5,1321.9 188.52,1321.9 873.15,1160.37 1009.69,1058.4 1147.88,1058.4 1285.8,1321.9" fill="none" stroke="#000" stroke-width="1.9" stroke-linejoin="round" stroke-linecap="round"/>
<polyline points="49.5,1320.4 114,1320.4 127.3,1320 129.5,1314.9 131.3,1309.1 133.1,1314.9 135.3,1318.1 138.9,1319.3 141.8,1318.1 144.7,1318.1 147.6,1320.4 150.5,1319.6 153.5,1320.4 580,1320.4 597.6,1319.3 608.5,1317.7 619.5,1314.9 627.2,1312.2 631.6,1302.3 637.1,1295.8 638.8,1279.3 640.4,1270.5 642.6,1278.2 644.8,1263.9 647.4,1250.3 650.3,1267.2 652.4,1255.1 655.7,1233.2 658.6,1215.6 660.8,1206.8 662.3,1193.7 663,1151 663.5,1130 664.1,1118.6 665.4,1121.4 666,1140 666.5,1176.2 667.6,1178.4 668.1,1145.5 668.5,1110 669.2,1095 670.3,1092.8 670.9,1056.6 671.5,1070 672,1087.3 673.3,1088.4 673.3,1151 674.4,1153.2 674.7,1177.3 675.8,1178.4 676.3,1189.4 677.3,1220 678.8,1257.3 679.9,1244.2 681.4,1220 683.2,1224.4 684.9,1248.6 686.5,1277.1 689.8,1296.9 696.4,1305.6 706.2,1308.9 716.1,1314.4 729.3,1317.7 742.5,1319.3 780,1319.9 1287,1320.6" fill="none" stroke="#000" stroke-width="2" stroke-linejoin="round" stroke-linecap="round"/>
<polyline points="597.6,1320.2 704,1319.8 705.5,1317.9 739.2,1317.9" fill="none" stroke="#000" stroke-width="1.5"/>
<polyline points="594.2,1325.6 597.6,1320.6 601,1325.6" fill="none" stroke="#000" stroke-width="1.5"/><line x1="597.6" y1="1320.6" x2="597.6" y2="1328.7" stroke="#000" stroke-width="1.5"/>
<polyline points="735.8,1312.7 739.2,1317.7 742.6,1312.7" fill="none" stroke="#000" stroke-width="1.5"/><line x1="739.2" y1="1317.7" x2="739.2" y2="1308.9" stroke="#000" stroke-width="1.5"/>
<polyline points="110.8,1327.2 114.2,1322.2 117.6,1327.2" fill="none" stroke="#000" stroke-width="1.5"/><line x1="114.2" y1="1322.2" x2="114.2" y2="1330.2" stroke="#000" stroke-width="1.5"/>
<polyline points="153.7,1315.5 157.1,1320.5 160.5,1315.5" fill="none" stroke="#000" stroke-width="1.5"/><line x1="157.1" y1="1320.5" x2="157.1" y2="1312.7" stroke="#000" stroke-width="1.5"/>
<circle cx="136.7" cy="1306.9" r="1.6" fill="#000"/>
</g>
<line x1="49" y1="1042.9" x2="1286.8" y2="1042.9" stroke="#000" stroke-width="2"/>
<line x1="49" y1="1041.9" x2="49" y2="1337.7" stroke="#000" stroke-width="2"/>
<line x1="48" y1="1336.7" x2="1286.8" y2="1336.7" stroke="#000" stroke-width="2"/>
<line x1="1285.8" y1="1041.9" x2="1285.8" y2="1341.7" stroke="#000" stroke-width="2"/>
<line x1="45" y1="1334.6" x2="49" y2="1334.6" stroke="#000" stroke-width="1.8"/>
<line x1="41" y1="1323.4" x2="49" y2="1323.4" stroke="#000" stroke-width="1.8"/>
<line x1="45" y1="1312.2" x2="49" y2="1312.2" stroke="#000" stroke-width="1.8"/>
<line x1="45" y1="1301" x2="49" y2="1301" stroke="#000" stroke-width="1.8"/>
<line x1="45" y1="1289.8" x2="49" y2="1289.8" stroke="#000" stroke-width="1.8"/>
<line x1="45" y1="1278.6" x2="49" y2="1278.6" stroke="#000" stroke-width="1.8"/>
<line x1="41" y1="1267.4" x2="49" y2="1267.4" stroke="#000" stroke-width="1.8"/>
<line x1="45" y1="1256.2" x2="49" y2="1256.2" stroke="#000" stroke-width="1.8"/>
<line x1="45" y1="1245" x2="49" y2="1245" stroke="#000" stroke-width="1.8"/>
<line x1="45" y1="1233.8" x2="49" y2="1233.8" stroke="#000" stroke-width="1.8"/>
<line x1="45" y1="1222.6" x2="49" y2="1222.6" stroke="#000" stroke-width="1.8"/>
<line x1="41" y1="1211.4" x2="49" y2="1211.4" stroke="#000" stroke-width="1.8"/>
<line x1="45" y1="1200.2" x2="49" y2="1200.2" stroke="#000" stroke-width="1.8"/>
<line x1="45" y1="1189" x2="49" y2="1189" stroke="#000" stroke-width="1.8"/>
<line x1="45" y1="1177.8" x2="49" y2="1177.8" stroke="#000" stroke-width="1.8"/>
<line x1="45" y1="1166.6" x2="49" y2="1166.6" stroke="#000" stroke-width="1.8"/>
<line x1="41" y1="1155.4" x2="49" y2="1155.4" stroke="#000" stroke-width="1.8"/>
<line x1="45" y1="1144.2" x2="49" y2="1144.2" stroke="#000" stroke-width="1.8"/>
<line x1="45" y1="1133" x2="49" y2="1133" stroke="#000" stroke-width="1.8"/>
<line x1="45" y1="1121.8" x2="49" y2="1121.8" stroke="#000" stroke-width="1.8"/>
<line x1="45" y1="1110.6" x2="49" y2="1110.6" stroke="#000" stroke-width="1.8"/>
<line x1="41" y1="1099.4" x2="49" y2="1099.4" stroke="#000" stroke-width="1.8"/>
<line x1="45" y1="1088.2" x2="49" y2="1088.2" stroke="#000" stroke-width="1.8"/>
<line x1="45" y1="1077" x2="49" y2="1077" stroke="#000" stroke-width="1.8"/>
<line x1="45" y1="1065.8" x2="49" y2="1065.8" stroke="#000" stroke-width="1.8"/>
<line x1="45" y1="1054.6" x2="49" y2="1054.6" stroke="#000" stroke-width="1.8"/>
<line x1="45" y1="1043.4" x2="49" y2="1043.4" stroke="#000" stroke-width="1.8"/>
<text x="41.4" y="1103.7" font-size="12" font-weight="bold" text-anchor="end" textLength="12.41" lengthAdjust="spacingAndGlyphs">20</text>
<text x="41.4" y="1159.7" font-size="12" font-weight="bold" text-anchor="end" textLength="12.41" lengthAdjust="spacingAndGlyphs">15</text>
<text x="41.4" y="1215.7" font-size="12" font-weight="bold" text-anchor="end" textLength="12.41" lengthAdjust="spacingAndGlyphs">10</text>
<text x="41.4" y="1271.7" font-size="12" font-weight="bold" text-anchor="end" textLength="6.21" lengthAdjust="spacingAndGlyphs">5</text>
<text x="41.4" y="1327.7" font-size="12" font-weight="bold" text-anchor="end" textLength="6.21" lengthAdjust="spacingAndGlyphs">0</text>
<line x1="1285.8" y1="1335.6" x2="1292.1" y2="1335.6" stroke="#000" stroke-width="1.8"/>
<text x="1294.2" y="1339.3" font-size="12" font-weight="bold" text-anchor="start" textLength="21.8" lengthAdjust="spacingAndGlyphs">0,00</text>
<line x1="1285.8" y1="1325.6" x2="1289.2" y2="1325.6" stroke="#000" stroke-width="1.8"/>
<line x1="1285.8" y1="1315.6" x2="1289.2" y2="1315.6" stroke="#000" stroke-width="1.8"/>
<line x1="1285.8" y1="1305.6" x2="1289.2" y2="1305.6" stroke="#000" stroke-width="1.8"/>
<line x1="1285.8" y1="1295.6" x2="1289.2" y2="1295.6" stroke="#000" stroke-width="1.8"/>
<line x1="1285.8" y1="1285.6" x2="1292.1" y2="1285.6" stroke="#000" stroke-width="1.8"/>
<text x="1294.2" y="1289.3" font-size="12" font-weight="bold" text-anchor="start" textLength="21.8" lengthAdjust="spacingAndGlyphs">0,25</text>
<line x1="1285.8" y1="1275.6" x2="1289.2" y2="1275.6" stroke="#000" stroke-width="1.8"/>
<line x1="1285.8" y1="1265.6" x2="1289.2" y2="1265.6" stroke="#000" stroke-width="1.8"/>
<line x1="1285.8" y1="1255.6" x2="1289.2" y2="1255.6" stroke="#000" stroke-width="1.8"/>
<line x1="1285.8" y1="1245.6" x2="1289.2" y2="1245.6" stroke="#000" stroke-width="1.8"/>
<line x1="1285.8" y1="1235.6" x2="1292.1" y2="1235.6" stroke="#000" stroke-width="1.8"/>
<text x="1294.2" y="1239.3" font-size="12" font-weight="bold" text-anchor="start" textLength="21.8" lengthAdjust="spacingAndGlyphs">0,50</text>
<line x1="1285.8" y1="1225.6" x2="1289.2" y2="1225.6" stroke="#000" stroke-width="1.8"/>
<line x1="1285.8" y1="1215.6" x2="1289.2" y2="1215.6" stroke="#000" stroke-width="1.8"/>
<line x1="1285.8" y1="1205.6" x2="1289.2" y2="1205.6" stroke="#000" stroke-width="1.8"/>
<line x1="1285.8" y1="1195.6" x2="1289.2" y2="1195.6" stroke="#000" stroke-width="1.8"/>
<line x1="1285.8" y1="1185.6" x2="1292.1" y2="1185.6" stroke="#000" stroke-width="1.8"/>
<text x="1294.2" y="1189.3" font-size="12" font-weight="bold" text-anchor="start" textLength="21.8" lengthAdjust="spacingAndGlyphs">0,75</text>
<line x1="1285.8" y1="1175.6" x2="1289.2" y2="1175.6" stroke="#000" stroke-width="1.8"/>
<line x1="1285.8" y1="1165.6" x2="1289.2" y2="1165.6" stroke="#000" stroke-width="1.8"/>
<line x1="1285.8" y1="1155.6" x2="1289.2" y2="1155.6" stroke="#000" stroke-width="1.8"/>
<line x1="1285.8" y1="1145.6" x2="1289.2" y2="1145.6" stroke="#000" stroke-width="1.8"/>
<line x1="1285.8" y1="1135.6" x2="1292.1" y2="1135.6" stroke="#000" stroke-width="1.8"/>
<text x="1294.2" y="1139.3" font-size="12" font-weight="bold" text-anchor="start" textLength="21.8" lengthAdjust="spacingAndGlyphs">1,00</text>
<line x1="1285.8" y1="1125.6" x2="1289.2" y2="1125.6" stroke="#000" stroke-width="1.8"/>
<line x1="1285.8" y1="1115.6" x2="1289.2" y2="1115.6" stroke="#000" stroke-width="1.8"/>
<line x1="1285.8" y1="1105.6" x2="1289.2" y2="1105.6" stroke="#000" stroke-width="1.8"/>
<line x1="1285.8" y1="1095.6" x2="1289.2" y2="1095.6" stroke="#000" stroke-width="1.8"/>
<line x1="1285.8" y1="1085.6" x2="1292.1" y2="1085.6" stroke="#000" stroke-width="1.8"/>
<text x="1294.2" y="1089.3" font-size="12" font-weight="bold" text-anchor="start" textLength="21.8" lengthAdjust="spacingAndGlyphs">1,25</text>
<line x1="1285.8" y1="1075.6" x2="1289.2" y2="1075.6" stroke="#000" stroke-width="1.8"/>
<line x1="1285.8" y1="1065.6" x2="1289.2" y2="1065.6" stroke="#000" stroke-width="1.8"/>
<line x1="1285.8" y1="1055.6" x2="1289.2" y2="1055.6" stroke="#000" stroke-width="1.8"/>
<line x1="1285.8" y1="1045.6" x2="1289.2" y2="1045.6" stroke="#000" stroke-width="1.8"/>
<line x1="49.5" y1="1336.7" x2="49.5" y2="1341.7" stroke="#000" stroke-width="1.8"/>
<text x="49.8" y="1352.4" font-size="12" font-weight="bold" text-anchor="middle" textLength="15.51" lengthAdjust="spacingAndGlyphs">0,0</text>
<line x1="63.24" y1="1336.7" x2="63.24" y2="1339.9" stroke="#000" stroke-width="1.8"/>
<line x1="76.97" y1="1336.7" x2="76.97" y2="1339.9" stroke="#000" stroke-width="1.8"/>
<line x1="90.71" y1="1336.7" x2="90.71" y2="1339.9" stroke="#000" stroke-width="1.8"/>
<line x1="104.45" y1="1336.7" x2="104.45" y2="1339.9" stroke="#000" stroke-width="1.8"/>
<line x1="118.18" y1="1336.7" x2="118.18" y2="1341.7" stroke="#000" stroke-width="1.8"/>
<text x="118.48" y="1352.4" font-size="12" font-weight="bold" text-anchor="middle" textLength="15.51" lengthAdjust="spacingAndGlyphs">2,5</text>
<line x1="131.92" y1="1336.7" x2="131.92" y2="1339.9" stroke="#000" stroke-width="1.8"/>
<line x1="145.66" y1="1336.7" x2="145.66" y2="1339.9" stroke="#000" stroke-width="1.8"/>
<line x1="159.39" y1="1336.7" x2="159.39" y2="1339.9" stroke="#000" stroke-width="1.8"/>
<line x1="173.13" y1="1336.7" x2="173.13" y2="1339.9" stroke="#000" stroke-width="1.8"/>
<line x1="186.87" y1="1336.7" x2="186.87" y2="1341.7" stroke="#000" stroke-width="1.8"/>
<text x="187.17" y="1352.4" font-size="12" font-weight="bold" text-anchor="middle" textLength="15.51" lengthAdjust="spacingAndGlyphs">5,0</text>
<line x1="200.6" y1="1336.7" x2="200.6" y2="1339.9" stroke="#000" stroke-width="1.8"/>
<line x1="214.34" y1="1336.7" x2="214.34" y2="1339.9" stroke="#000" stroke-width="1.8"/>
<line x1="228.08" y1="1336.7" x2="228.08" y2="1339.9" stroke="#000" stroke-width="1.8"/>
<line x1="241.81" y1="1336.7" x2="241.81" y2="1339.9" stroke="#000" stroke-width="1.8"/>
<line x1="255.55" y1="1336.7" x2="255.55" y2="1341.7" stroke="#000" stroke-width="1.8"/>
<text x="255.85" y="1352.4" font-size="12" font-weight="bold" text-anchor="middle" textLength="15.51" lengthAdjust="spacingAndGlyphs">7,5</text>
<line x1="269.29" y1="1336.7" x2="269.29" y2="1339.9" stroke="#000" stroke-width="1.8"/>
<line x1="283.02" y1="1336.7" x2="283.02" y2="1339.9" stroke="#000" stroke-width="1.8"/>
<line x1="296.76" y1="1336.7" x2="296.76" y2="1339.9" stroke="#000" stroke-width="1.8"/>
<line x1="310.5" y1="1336.7" x2="310.5" y2="1339.9" stroke="#000" stroke-width="1.8"/>
<line x1="324.23" y1="1336.7" x2="324.23" y2="1341.7" stroke="#000" stroke-width="1.8"/>
<text x="324.53" y="1352.4" font-size="12" font-weight="bold" text-anchor="middle" textLength="21.72" lengthAdjust="spacingAndGlyphs">10,0</text>
<line x1="337.97" y1="1336.7" x2="337.97" y2="1339.9" stroke="#000" stroke-width="1.8"/>
<line x1="351.71" y1="1336.7" x2="351.71" y2="1339.9" stroke="#000" stroke-width="1.8"/>
<line x1="365.44" y1="1336.7" x2="365.44" y2="1339.9" stroke="#000" stroke-width="1.8"/>
<line x1="379.18" y1="1336.7" x2="379.18" y2="1339.9" stroke="#000" stroke-width="1.8"/>
<line x1="392.92" y1="1336.7" x2="392.92" y2="1341.7" stroke="#000" stroke-width="1.8"/>
<text x="393.22" y="1352.4" font-size="12" font-weight="bold" text-anchor="middle" textLength="21.72" lengthAdjust="spacingAndGlyphs">12,5</text>
<line x1="406.65" y1="1336.7" x2="406.65" y2="1339.9" stroke="#000" stroke-width="1.8"/>
<line x1="420.39" y1="1336.7" x2="420.39" y2="1339.9" stroke="#000" stroke-width="1.8"/>
<line x1="434.13" y1="1336.7" x2="434.13" y2="1339.9" stroke="#000" stroke-width="1.8"/>
<line x1="447.86" y1="1336.7" x2="447.86" y2="1339.9" stroke="#000" stroke-width="1.8"/>
<line x1="461.6" y1="1336.7" x2="461.6" y2="1341.7" stroke="#000" stroke-width="1.8"/>
<text x="461.9" y="1352.4" font-size="12" font-weight="bold" text-anchor="middle" textLength="21.72" lengthAdjust="spacingAndGlyphs">15,0</text>
<line x1="475.34" y1="1336.7" x2="475.34" y2="1339.9" stroke="#000" stroke-width="1.8"/>
<line x1="489.07" y1="1336.7" x2="489.07" y2="1339.9" stroke="#000" stroke-width="1.8"/>
<line x1="502.81" y1="1336.7" x2="502.81" y2="1339.9" stroke="#000" stroke-width="1.8"/>
<line x1="516.55" y1="1336.7" x2="516.55" y2="1339.9" stroke="#000" stroke-width="1.8"/>
<line x1="530.28" y1="1336.7" x2="530.28" y2="1341.7" stroke="#000" stroke-width="1.8"/>
<text x="530.58" y="1352.4" font-size="12" font-weight="bold" text-anchor="middle" textLength="21.72" lengthAdjust="spacingAndGlyphs">17,5</text>
<line x1="544.02" y1="1336.7" x2="544.02" y2="1339.9" stroke="#000" stroke-width="1.8"/>
<line x1="557.76" y1="1336.7" x2="557.76" y2="1339.9" stroke="#000" stroke-width="1.8"/>
<line x1="571.49" y1="1336.7" x2="571.49" y2="1339.9" stroke="#000" stroke-width="1.8"/>
<line x1="585.23" y1="1336.7" x2="585.23" y2="1339.9" stroke="#000" stroke-width="1.8"/>
<line x1="598.97" y1="1336.7" x2="598.97" y2="1341.7" stroke="#000" stroke-width="1.8"/>
<text x="599.27" y="1352.4" font-size="12" font-weight="bold" text-anchor="middle" textLength="21.72" lengthAdjust="spacingAndGlyphs">20,0</text>
<line x1="612.7" y1="1336.7" x2="612.7" y2="1339.9" stroke="#000" stroke-width="1.8"/>
<line x1="626.44" y1="1336.7" x2="626.44" y2="1339.9" stroke="#000" stroke-width="1.8"/>
<line x1="640.18" y1="1336.7" x2="640.18" y2="1339.9" stroke="#000" stroke-width="1.8"/>
<line x1="653.91" y1="1336.7" x2="653.91" y2="1339.9" stroke="#000" stroke-width="1.8"/>
<line x1="667.65" y1="1336.7" x2="667.65" y2="1341.7" stroke="#000" stroke-width="1.8"/>
<text x="667.95" y="1352.4" font-size="12" font-weight="bold" text-anchor="middle" textLength="21.72" lengthAdjust="spacingAndGlyphs">22,5</text>
<line x1="681.39" y1="1336.7" x2="681.39" y2="1339.9" stroke="#000" stroke-width="1.8"/>
<line x1="695.12" y1="1336.7" x2="695.12" y2="1339.9" stroke="#000" stroke-width="1.8"/>
<line x1="708.86" y1="1336.7" x2="708.86" y2="1339.9" stroke="#000" stroke-width="1.8"/>
<line x1="722.6" y1="1336.7" x2="722.6" y2="1339.9" stroke="#000" stroke-width="1.8"/>
<line x1="736.33" y1="1336.7" x2="736.33" y2="1341.7" stroke="#000" stroke-width="1.8"/>
<text x="736.63" y="1352.4" font-size="12" font-weight="bold" text-anchor="middle" textLength="21.72" lengthAdjust="spacingAndGlyphs">25,0</text>
<line x1="750.07" y1="1336.7" x2="750.07" y2="1339.9" stroke="#000" stroke-width="1.8"/>
<line x1="763.81" y1="1336.7" x2="763.81" y2="1339.9" stroke="#000" stroke-width="1.8"/>
<line x1="777.54" y1="1336.7" x2="777.54" y2="1339.9" stroke="#000" stroke-width="1.8"/>
<line x1="791.28" y1="1336.7" x2="791.28" y2="1339.9" stroke="#000" stroke-width="1.8"/>
<line x1="805.02" y1="1336.7" x2="805.02" y2="1341.7" stroke="#000" stroke-width="1.8"/>
<text x="805.32" y="1352.4" font-size="12" font-weight="bold" text-anchor="middle" textLength="21.72" lengthAdjust="spacingAndGlyphs">27,5</text>
<line x1="818.75" y1="1336.7" x2="818.75" y2="1339.9" stroke="#000" stroke-width="1.8"/>
<line x1="832.49" y1="1336.7" x2="832.49" y2="1339.9" stroke="#000" stroke-width="1.8"/>
<line x1="846.23" y1="1336.7" x2="846.23" y2="1339.9" stroke="#000" stroke-width="1.8"/>
<line x1="859.96" y1="1336.7" x2="859.96" y2="1339.9" stroke="#000" stroke-width="1.8"/>
<line x1="873.7" y1="1336.7" x2="873.7" y2="1341.7" stroke="#000" stroke-width="1.8"/>
<text x="874" y="1352.4" font-size="12" font-weight="bold" text-anchor="middle" textLength="21.72" lengthAdjust="spacingAndGlyphs">30,0</text>
<line x1="887.44" y1="1336.7" x2="887.44" y2="1339.9" stroke="#000" stroke-width="1.8"/>
<line x1="901.17" y1="1336.7" x2="901.17" y2="1339.9" stroke="#000" stroke-width="1.8"/>
<line x1="914.91" y1="1336.7" x2="914.91" y2="1339.9" stroke="#000" stroke-width="1.8"/>
<line x1="928.65" y1="1336.7" x2="928.65" y2="1339.9" stroke="#000" stroke-width="1.8"/>
<line x1="942.38" y1="1336.7" x2="942.38" y2="1341.7" stroke="#000" stroke-width="1.8"/>
<text x="942.68" y="1352.4" font-size="12" font-weight="bold" text-anchor="middle" textLength="21.72" lengthAdjust="spacingAndGlyphs">32,5</text>
<line x1="956.12" y1="1336.7" x2="956.12" y2="1339.9" stroke="#000" stroke-width="1.8"/>
<line x1="969.86" y1="1336.7" x2="969.86" y2="1339.9" stroke="#000" stroke-width="1.8"/>
<line x1="983.59" y1="1336.7" x2="983.59" y2="1339.9" stroke="#000" stroke-width="1.8"/>
<line x1="997.33" y1="1336.7" x2="997.33" y2="1339.9" stroke="#000" stroke-width="1.8"/>
<line x1="1011.07" y1="1336.7" x2="1011.07" y2="1341.7" stroke="#000" stroke-width="1.8"/>
<text x="1011.37" y="1352.4" font-size="12" font-weight="bold" text-anchor="middle" textLength="21.72" lengthAdjust="spacingAndGlyphs">35,0</text>
<line x1="1024.8" y1="1336.7" x2="1024.8" y2="1339.9" stroke="#000" stroke-width="1.8"/>
<line x1="1038.54" y1="1336.7" x2="1038.54" y2="1339.9" stroke="#000" stroke-width="1.8"/>
<line x1="1052.28" y1="1336.7" x2="1052.28" y2="1339.9" stroke="#000" stroke-width="1.8"/>
<line x1="1066.01" y1="1336.7" x2="1066.01" y2="1339.9" stroke="#000" stroke-width="1.8"/>
<line x1="1079.75" y1="1336.7" x2="1079.75" y2="1341.7" stroke="#000" stroke-width="1.8"/>
<text x="1080.05" y="1352.4" font-size="12" font-weight="bold" text-anchor="middle" textLength="21.72" lengthAdjust="spacingAndGlyphs">37,5</text>
<line x1="1093.49" y1="1336.7" x2="1093.49" y2="1339.9" stroke="#000" stroke-width="1.8"/>
<line x1="1107.22" y1="1336.7" x2="1107.22" y2="1339.9" stroke="#000" stroke-width="1.8"/>
<line x1="1120.96" y1="1336.7" x2="1120.96" y2="1339.9" stroke="#000" stroke-width="1.8"/>
<line x1="1134.7" y1="1336.7" x2="1134.7" y2="1339.9" stroke="#000" stroke-width="1.8"/>
<line x1="1148.43" y1="1336.7" x2="1148.43" y2="1341.7" stroke="#000" stroke-width="1.8"/>
<text x="1148.73" y="1352.4" font-size="12" font-weight="bold" text-anchor="middle" textLength="21.72" lengthAdjust="spacingAndGlyphs">40,0</text>
<line x1="1162.17" y1="1336.7" x2="1162.17" y2="1339.9" stroke="#000" stroke-width="1.8"/>
<line x1="1175.91" y1="1336.7" x2="1175.91" y2="1339.9" stroke="#000" stroke-width="1.8"/>
<line x1="1189.64" y1="1336.7" x2="1189.64" y2="1339.9" stroke="#000" stroke-width="1.8"/>
<line x1="1203.38" y1="1336.7" x2="1203.38" y2="1339.9" stroke="#000" stroke-width="1.8"/>
<line x1="1217.12" y1="1336.7" x2="1217.12" y2="1341.7" stroke="#000" stroke-width="1.8"/>
<text x="1217.42" y="1352.4" font-size="12" font-weight="bold" text-anchor="middle" textLength="21.72" lengthAdjust="spacingAndGlyphs">42,5</text>
<line x1="1230.85" y1="1336.7" x2="1230.85" y2="1339.9" stroke="#000" stroke-width="1.8"/>
<line x1="1244.59" y1="1336.7" x2="1244.59" y2="1339.9" stroke="#000" stroke-width="1.8"/>
<line x1="1258.33" y1="1336.7" x2="1258.33" y2="1339.9" stroke="#000" stroke-width="1.8"/>
<line x1="1272.06" y1="1336.7" x2="1272.06" y2="1339.9" stroke="#000" stroke-width="1.8"/>
<line x1="1285.8" y1="1336.7" x2="1285.8" y2="1341.7" stroke="#000" stroke-width="1.8"/>
<text x="1285" y="1352.4" font-size="12" font-weight="bold" text-anchor="end" textLength="15.2" lengthAdjust="spacingAndGlyphs">min</text>
<rect x="49" y="1042.9" width="63.5" height="12.9" fill="#fff" stroke="#000" stroke-width="1.6"/>
<text x="51.1" y="1053.8" font-size="12" font-weight="bold" text-anchor="start" textLength="58.5" lengthAdjust="spacingAndGlyphs">Radio Scan</text>
<text transform="translate(70.2,1150.75) scale(0.9382,1)" x="0" y="0" font-size="39.01" font-weight="bold" style="stroke-width:0.7px">D</text>
<text x="1172.3" y="1039" font-size="11.6" font-weight="bold" text-anchor="start" textLength="114.6" lengthAdjust="spacingAndGlyphs">Max Intensity :  23.734</text>
<text x="1294.5" y="1039.3" font-size="11.6" font-weight="bold" text-anchor="start" textLength="64.1" lengthAdjust="spacingAndGlyphs">psi(x10,000)</text>
<text x="1006.8" y="1052.6" font-size="11.4" font-weight="bold" text-anchor="start" textLength="21.8" lengthAdjust="spacingAndGlyphs">Time</text>
<text x="1038.7" y="1052.6" font-size="11.4" font-weight="bold" text-anchor="start" textLength="34.9" lengthAdjust="spacingAndGlyphs">19,530</text>
<text x="1086.7" y="1052.6" font-size="11.4" font-weight="bold" text-anchor="start" textLength="26.5" lengthAdjust="spacingAndGlyphs">Inten.</text>
<text x="1166.4" y="1052.6" font-size="11.4" font-weight="bold" text-anchor="start" textLength="27.8" lengthAdjust="spacingAndGlyphs">0,274</text>
<text x="1207.8" y="1052.6" font-size="11.4" font-weight="bold" text-anchor="start" textLength="31.6" lengthAdjust="spacingAndGlyphs">Press.</text>
<text x="1249.5" y="1052.6" font-size="11.4" font-weight="bold" text-anchor="start" textLength="34.1" lengthAdjust="spacingAndGlyphs">850,05</text>
<text x="1247.6" y="1065.5" font-size="11.4" font-weight="bold" text-anchor="start" textLength="37.4" lengthAdjust="spacingAndGlyphs">B.Conc</text>
</svg></body></html>
